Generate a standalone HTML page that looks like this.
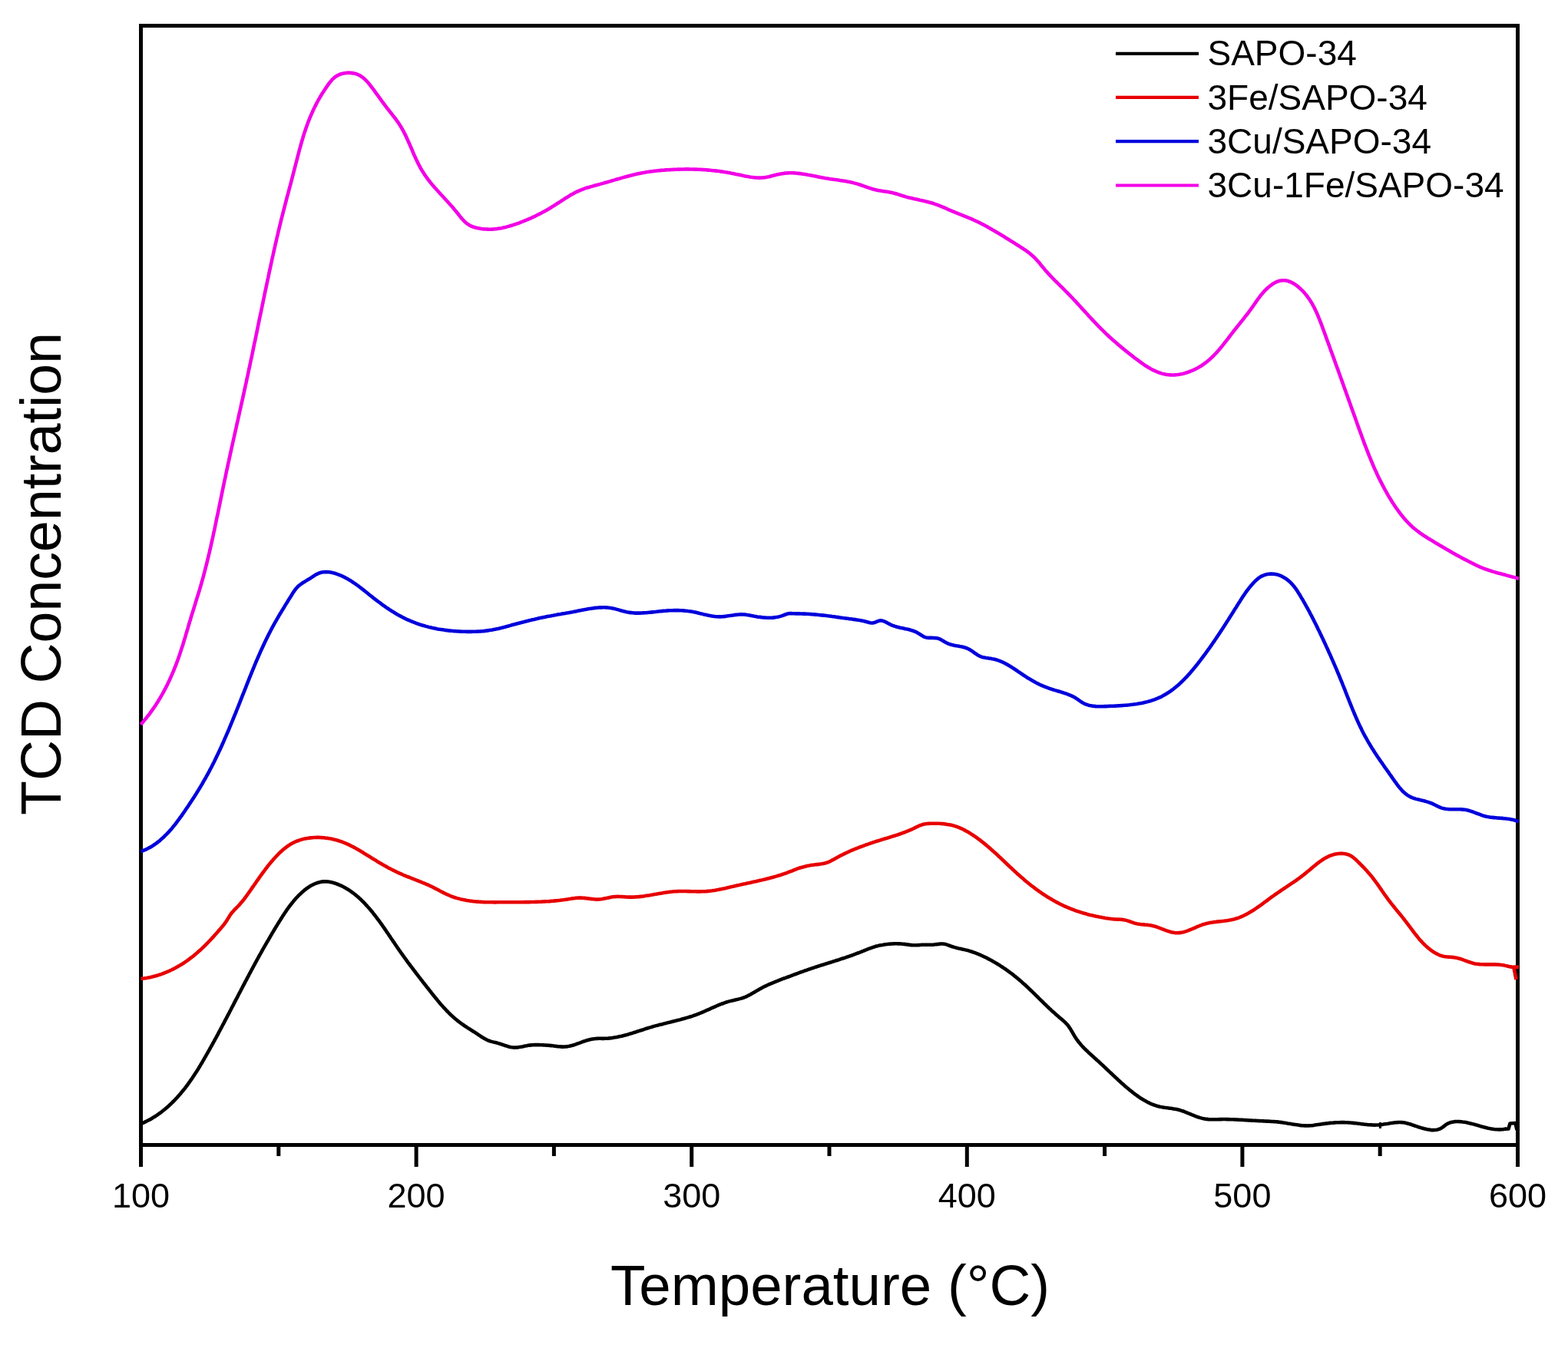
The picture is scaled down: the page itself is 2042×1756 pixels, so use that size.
<!DOCTYPE html>
<html><head><meta charset="utf-8"><title>TCD Concentration vs Temperature</title>
<style>
html,body{margin:0;padding:0;background:#fff;}
body{width:2042px;height:1756px;overflow:hidden;}
svg{display:block;}
text{font-family:"Liberation Sans",Arial,sans-serif;fill:#000;}
</style></head>
<body>
<svg width="2042" height="1756" viewBox="0 0 2042 1756">
<rect width="2042" height="1756" fill="#fff"/>
<g stroke="#000" stroke-width="5" fill="none">
<rect x="183.5" y="33.5" width="1793.0" height="1458.0"/>
<line x1="183.5" y1="1491.5" x2="183.5" y2="1520"/>
<line x1="542.1" y1="1491.5" x2="542.1" y2="1520"/>
<line x1="900.7" y1="1491.5" x2="900.7" y2="1520"/>
<line x1="1259.3" y1="1491.5" x2="1259.3" y2="1520"/>
<line x1="1617.9" y1="1491.5" x2="1617.9" y2="1520"/>
<line x1="1976.5" y1="1491.5" x2="1976.5" y2="1520"/>
<line x1="362.8" y1="1491.5" x2="362.8" y2="1506"/>
<line x1="721.4" y1="1491.5" x2="721.4" y2="1506"/>
<line x1="1080.0" y1="1491.5" x2="1080.0" y2="1506"/>
<line x1="1438.6" y1="1491.5" x2="1438.6" y2="1506"/>
<line x1="1797.2" y1="1491.5" x2="1797.2" y2="1506"/>
</g>
<g fill="none" stroke-width="4.6" stroke-linejoin="round" stroke-linecap="butt">
<path d="M183.5,1464.2 L186.0,1463.0 L187.8,1462.1 L189.7,1461.2 L191.5,1460.3 L193.4,1459.3 L195.2,1458.4 L196.9,1457.4 L198.7,1456.3 L200.4,1455.3 L202.1,1454.2 L203.8,1453.1 L205.4,1452.0 L207.0,1450.8 L208.7,1449.7 L210.3,1448.5 L211.8,1447.3 L213.4,1446.0 L214.9,1444.8 L216.4,1443.5 L217.9,1442.2 L219.4,1440.9 L220.9,1439.6 L222.3,1438.2 L223.7,1436.9 L225.1,1435.5 L226.5,1434.1 L227.9,1432.7 L229.2,1431.2 L230.6,1429.8 L231.9,1428.3 L233.2,1426.8 L234.5,1425.4 L235.8,1423.8 L237.0,1422.3 L238.3,1420.8 L239.5,1419.2 L240.8,1417.7 L242.0,1416.1 L243.2,1414.5 L244.4,1412.9 L245.5,1411.3 L246.7,1409.7 L247.8,1408.0 L249.0,1406.4 L250.1,1404.7 L251.2,1403.1 L252.3,1401.4 L253.4,1399.7 L254.5,1398.1 L255.6,1396.4 L256.7,1394.7 L257.8,1393.0 L258.8,1391.3 L259.9,1389.5 L260.9,1387.8 L261.9,1386.1 L263.0,1384.4 L264.0,1382.6 L265.0,1380.9 L266.0,1379.1 L267.0,1377.4 L268.0,1375.7 L269.0,1373.9 L270.0,1372.2 L271.0,1370.4 L272.0,1368.7 L273.0,1366.9 L273.9,1365.1 L274.9,1363.4 L275.9,1361.6 L276.9,1359.9 L277.8,1358.1 L278.8,1356.4 L279.7,1354.6 L280.7,1352.8 L281.7,1351.1 L282.6,1349.3 L283.6,1347.6 L284.5,1345.8 L285.4,1344.0 L286.4,1342.3 L287.3,1340.5 L288.3,1338.7 L289.2,1337.0 L290.1,1335.2 L291.1,1333.5 L292.0,1331.7 L292.9,1329.9 L293.8,1328.2 L294.8,1326.4 L295.7,1324.6 L296.6,1322.8 L297.5,1321.1 L298.5,1319.3 L299.4,1317.5 L300.3,1315.8 L301.2,1314.0 L302.1,1312.2 L303.1,1310.5 L304.0,1308.7 L304.9,1306.9 L305.8,1305.2 L306.7,1303.4 L307.6,1301.6 L308.6,1299.8 L309.5,1298.1 L310.4,1296.3 L311.3,1294.5 L312.2,1292.8 L313.2,1291.0 L314.1,1289.2 L315.0,1287.5 L315.9,1285.7 L316.9,1283.9 L317.8,1282.2 L318.7,1280.4 L319.6,1278.6 L320.6,1276.9 L321.5,1275.1 L322.4,1273.3 L323.4,1271.6 L324.3,1269.8 L325.2,1268.0 L326.2,1266.3 L327.1,1264.5 L328.1,1262.7 L329.0,1261.0 L330.0,1259.2 L330.9,1257.5 L331.9,1255.7 L332.8,1253.9 L333.8,1252.2 L334.7,1250.4 L335.7,1248.7 L336.7,1246.9 L337.6,1245.2 L338.6,1243.4 L339.6,1241.7 L340.6,1239.9 L341.5,1238.2 L342.5,1236.4 L343.5,1234.7 L344.5,1232.9 L345.5,1231.2 L346.5,1229.5 L347.5,1227.7 L348.5,1226.0 L349.5,1224.3 L350.5,1222.5 L351.5,1220.8 L352.5,1219.1 L353.5,1217.4 L354.5,1215.6 L355.6,1213.9 L356.6,1212.2 L357.6,1210.5 L358.6,1208.8 L359.7,1207.1 L360.7,1205.4 L361.7,1203.7 L362.8,1202.0 L363.8,1200.3 L364.9,1198.7 L365.9,1197.0 L367.0,1195.3 L368.0,1193.6 L369.1,1192.0 L370.2,1190.3 L371.3,1188.7 L372.4,1187.1 L373.5,1185.4 L374.6,1183.8 L375.8,1182.2 L377.0,1180.6 L378.2,1179.0 L379.4,1177.5 L380.6,1175.9 L381.9,1174.4 L383.2,1172.8 L384.5,1171.3 L385.8,1169.8 L387.2,1168.3 L388.6,1166.9 L390.1,1165.4 L391.6,1164.0 L393.1,1162.6 L394.6,1161.3 L396.2,1159.9 L397.8,1158.6 L399.4,1157.4 L401.1,1156.2 L402.8,1155.1 L404.5,1154.1 L406.3,1153.1 L408.0,1152.2 L409.8,1151.3 L411.7,1150.6 L413.5,1150.0 L415.4,1149.4 L417.3,1149.0 L419.2,1148.6 L421.1,1148.4 L423.0,1148.3 L425.0,1148.4 L427.0,1148.5 L429.0,1148.8 L431.0,1149.2 L433.0,1149.6 L434.9,1150.2 L436.9,1150.8 L438.8,1151.5 L440.8,1152.3 L442.6,1153.1 L444.5,1153.9 L446.3,1154.8 L448.1,1155.7 L449.9,1156.7 L451.6,1157.7 L453.3,1158.8 L455.0,1159.8 L456.6,1161.0 L458.3,1162.1 L459.9,1163.3 L461.4,1164.5 L463.0,1165.7 L464.5,1167.0 L466.0,1168.3 L467.5,1169.6 L469.0,1171.0 L470.5,1172.4 L471.9,1173.8 L473.3,1175.2 L474.7,1176.6 L476.0,1178.1 L477.4,1179.5 L478.7,1181.0 L480.1,1182.5 L481.4,1184.0 L482.7,1185.5 L483.9,1187.1 L485.2,1188.6 L486.4,1190.2 L487.7,1191.7 L488.9,1193.3 L490.1,1194.9 L491.3,1196.5 L492.5,1198.1 L493.7,1199.7 L494.9,1201.3 L496.0,1202.9 L497.2,1204.5 L498.3,1206.2 L499.5,1207.8 L500.6,1209.4 L501.8,1211.1 L502.9,1212.7 L504.0,1214.4 L505.1,1216.0 L506.3,1217.7 L507.4,1219.4 L508.5,1221.0 L509.6,1222.7 L510.7,1224.3 L511.8,1226.0 L513.0,1227.6 L514.1,1229.3 L515.2,1230.9 L516.3,1232.6 L517.5,1234.2 L518.6,1235.9 L519.7,1237.5 L520.9,1239.2 L522.0,1240.8 L523.2,1242.4 L524.4,1244.1 L525.5,1245.7 L526.7,1247.3 L527.9,1248.9 L529.0,1250.5 L530.2,1252.1 L531.4,1253.8 L532.6,1255.4 L533.8,1257.0 L535.0,1258.6 L536.2,1260.2 L537.4,1261.8 L538.6,1263.3 L539.8,1264.9 L541.0,1266.5 L542.2,1268.1 L543.5,1269.7 L544.7,1271.3 L545.9,1272.9 L547.1,1274.4 L548.3,1276.0 L549.6,1277.6 L550.8,1279.2 L552.0,1280.7 L553.3,1282.3 L554.5,1283.9 L555.7,1285.5 L557.0,1287.0 L558.2,1288.6 L559.4,1290.2 L560.7,1291.7 L561.9,1293.3 L563.1,1294.9 L564.4,1296.4 L565.6,1298.0 L566.9,1299.5 L568.1,1301.1 L569.4,1302.6 L570.7,1304.2 L572.0,1305.7 L573.2,1307.2 L574.5,1308.7 L575.9,1310.2 L577.2,1311.7 L578.5,1313.2 L579.9,1314.6 L581.2,1316.1 L582.6,1317.5 L584.0,1318.9 L585.4,1320.3 L586.8,1321.7 L588.3,1323.1 L589.8,1324.4 L591.2,1325.7 L592.7,1327.0 L594.3,1328.3 L595.8,1329.6 L597.4,1330.8 L599.0,1332.0 L600.6,1333.2 L602.3,1334.4 L603.9,1335.5 L605.6,1336.7 L607.3,1337.8 L609.0,1338.9 L610.7,1339.9 L612.4,1341.0 L614.1,1342.1 L615.8,1343.2 L617.5,1344.3 L619.2,1345.3 L620.8,1346.4 L622.4,1347.5 L624.1,1348.6 L625.7,1349.7 L627.3,1350.7 L628.9,1351.7 L630.6,1352.7 L632.2,1353.6 L633.9,1354.5 L635.7,1355.3 L637.5,1356.0 L639.3,1356.6 L641.2,1357.1 L643.1,1357.6 L645.1,1358.1 L647.1,1358.6 L649.0,1359.1 L651.0,1359.7 L653.0,1360.3 L654.9,1361.0 L656.9,1361.7 L658.8,1362.3 L660.7,1362.9 L662.6,1363.5 L664.6,1364.0 L666.5,1364.3 L668.4,1364.5 L670.4,1364.6 L672.3,1364.5 L674.3,1364.4 L676.2,1364.1 L678.2,1363.7 L680.1,1363.4 L682.1,1362.9 L684.0,1362.5 L686.0,1362.2 L688.0,1361.8 L689.9,1361.6 L691.9,1361.4 L693.9,1361.2 L695.8,1361.1 L697.8,1361.1 L699.8,1361.1 L701.8,1361.1 L703.8,1361.2 L705.7,1361.3 L707.7,1361.4 L709.7,1361.5 L711.7,1361.6 L713.7,1361.8 L715.7,1361.9 L717.7,1362.1 L719.7,1362.3 L721.7,1362.6 L723.7,1362.8 L725.8,1363.1 L727.8,1363.3 L729.8,1363.4 L731.8,1363.6 L733.8,1363.6 L735.8,1363.5 L737.8,1363.4 L739.7,1363.1 L741.6,1362.8 L743.6,1362.3 L745.5,1361.8 L747.4,1361.2 L749.3,1360.6 L751.1,1359.9 L753.0,1359.2 L754.9,1358.6 L756.8,1357.9 L758.6,1357.2 L760.5,1356.5 L762.4,1355.9 L764.3,1355.3 L766.2,1354.8 L768.1,1354.3 L770.0,1353.8 L772.0,1353.5 L773.9,1353.2 L775.9,1353.0 L777.9,1352.9 L779.9,1352.8 L781.9,1352.8 L783.9,1352.9 L785.9,1352.9 L787.9,1352.8 L789.9,1352.7 L791.9,1352.6 L793.9,1352.4 L795.9,1352.2 L797.8,1351.9 L799.8,1351.6 L801.7,1351.3 L803.7,1350.9 L805.6,1350.5 L807.6,1350.1 L809.5,1349.7 L811.4,1349.2 L813.3,1348.7 L815.3,1348.2 L817.2,1347.7 L819.1,1347.1 L821.0,1346.5 L822.9,1346.0 L824.8,1345.4 L826.7,1344.8 L828.6,1344.2 L830.5,1343.5 L832.5,1342.9 L834.4,1342.3 L836.3,1341.7 L838.2,1341.1 L840.1,1340.4 L842.0,1339.8 L843.9,1339.2 L845.8,1338.6 L847.7,1338.1 L849.7,1337.5 L851.6,1336.9 L853.5,1336.4 L855.4,1335.9 L857.4,1335.4 L859.3,1334.8 L861.2,1334.4 L863.2,1333.9 L865.1,1333.4 L867.1,1332.9 L869.0,1332.4 L870.9,1331.9 L872.9,1331.5 L874.8,1331.0 L876.8,1330.5 L878.7,1330.0 L880.6,1329.6 L882.6,1329.1 L884.5,1328.6 L886.4,1328.1 L888.3,1327.5 L890.3,1327.0 L892.2,1326.5 L894.1,1325.9 L896.0,1325.4 L897.9,1324.8 L899.8,1324.2 L901.7,1323.6 L903.6,1322.9 L905.4,1322.3 L907.3,1321.6 L909.2,1320.9 L911.0,1320.1 L912.9,1319.4 L914.7,1318.6 L916.6,1317.8 L918.4,1317.0 L920.2,1316.2 L922.1,1315.4 L923.9,1314.6 L925.7,1313.7 L927.5,1312.9 L929.4,1312.1 L931.2,1311.3 L933.0,1310.5 L934.9,1309.7 L936.7,1308.9 L938.6,1308.2 L940.5,1307.5 L942.3,1306.8 L944.2,1306.1 L946.1,1305.5 L948.0,1304.9 L949.9,1304.4 L951.8,1303.9 L953.8,1303.4 L955.7,1303.0 L957.6,1302.5 L959.6,1302.1 L961.5,1301.6 L963.4,1301.1 L965.3,1300.6 L967.2,1300.0 L969.1,1299.3 L970.9,1298.6 L972.7,1297.8 L974.5,1296.9 L976.2,1296.0 L978.0,1295.1 L979.7,1294.1 L981.5,1293.1 L983.2,1292.0 L984.9,1291.0 L986.7,1290.0 L988.4,1289.0 L990.1,1288.0 L991.9,1287.1 L993.7,1286.1 L995.4,1285.2 L997.2,1284.4 L999.0,1283.5 L1000.8,1282.7 L1002.6,1281.9 L1004.5,1281.1 L1006.3,1280.3 L1008.1,1279.6 L1009.9,1278.8 L1011.8,1278.1 L1013.6,1277.4 L1015.5,1276.6 L1017.3,1275.9 L1019.2,1275.2 L1021.0,1274.5 L1022.9,1273.9 L1024.8,1273.2 L1026.6,1272.5 L1028.5,1271.8 L1030.4,1271.1 L1032.2,1270.4 L1034.1,1269.7 L1035.9,1269.0 L1037.8,1268.3 L1039.7,1267.6 L1041.5,1266.9 L1043.4,1266.2 L1045.3,1265.6 L1047.2,1264.9 L1049.0,1264.2 L1050.9,1263.6 L1052.8,1262.9 L1054.7,1262.3 L1056.6,1261.6 L1058.5,1261.0 L1060.4,1260.4 L1062.3,1259.7 L1064.2,1259.1 L1066.1,1258.5 L1068.0,1257.9 L1069.9,1257.3 L1071.8,1256.7 L1073.7,1256.1 L1075.7,1255.5 L1077.6,1254.9 L1079.5,1254.3 L1081.4,1253.7 L1083.3,1253.1 L1085.2,1252.5 L1087.1,1251.9 L1089.0,1251.3 L1090.9,1250.7 L1092.8,1250.1 L1094.7,1249.4 L1096.6,1248.8 L1098.5,1248.2 L1100.4,1247.6 L1102.3,1246.9 L1104.2,1246.3 L1106.1,1245.6 L1108.0,1245.0 L1109.9,1244.3 L1111.7,1243.6 L1113.6,1242.9 L1115.5,1242.2 L1117.3,1241.5 L1119.2,1240.8 L1121.0,1240.1 L1122.9,1239.3 L1124.7,1238.6 L1126.5,1237.8 L1128.4,1237.1 L1130.2,1236.4 L1132.1,1235.7 L1134.0,1235.0 L1135.8,1234.4 L1137.7,1233.7 L1139.6,1233.1 L1141.6,1232.6 L1143.5,1232.1 L1145.5,1231.6 L1147.5,1231.2 L1149.5,1230.9 L1151.4,1230.5 L1153.5,1230.2 L1155.5,1230.0 L1157.5,1229.8 L1159.5,1229.6 L1161.5,1229.5 L1163.5,1229.4 L1165.5,1229.3 L1167.5,1229.3 L1169.5,1229.4 L1171.5,1229.4 L1173.5,1229.5 L1175.5,1229.7 L1177.4,1229.9 L1179.3,1230.1 L1181.2,1230.4 L1183.1,1230.6 L1185.0,1230.9 L1186.8,1231.1 L1188.7,1231.3 L1190.6,1231.3 L1192.5,1231.3 L1194.4,1231.2 L1196.4,1231.1 L1198.3,1231.0 L1200.3,1230.8 L1202.2,1230.7 L1204.2,1230.7 L1206.2,1230.7 L1208.2,1230.7 L1210.2,1230.7 L1212.2,1230.7 L1214.2,1230.7 L1216.2,1230.6 L1218.1,1230.3 L1220.1,1230.1 L1222.0,1229.9 L1224.0,1229.6 L1225.9,1229.5 L1227.8,1229.5 L1229.6,1229.7 L1231.4,1230.1 L1233.3,1230.6 L1235.1,1231.3 L1236.9,1232.0 L1238.7,1232.7 L1240.6,1233.3 L1242.5,1233.9 L1244.4,1234.4 L1246.4,1234.9 L1248.3,1235.4 L1250.3,1235.8 L1252.2,1236.2 L1254.2,1236.7 L1256.2,1237.1 L1258.1,1237.6 L1260.1,1238.1 L1262.0,1238.6 L1263.9,1239.2 L1265.8,1239.8 L1267.7,1240.5 L1269.6,1241.1 L1271.5,1241.9 L1273.3,1242.6 L1275.2,1243.4 L1277.0,1244.2 L1278.8,1245.0 L1280.6,1245.8 L1282.4,1246.7 L1284.2,1247.5 L1286.0,1248.4 L1287.7,1249.4 L1289.5,1250.3 L1291.3,1251.2 L1293.0,1252.2 L1294.7,1253.2 L1296.5,1254.2 L1298.2,1255.2 L1299.9,1256.3 L1301.6,1257.3 L1303.2,1258.4 L1304.9,1259.5 L1306.6,1260.6 L1308.2,1261.7 L1309.9,1262.8 L1311.5,1264.0 L1313.1,1265.1 L1314.7,1266.3 L1316.3,1267.5 L1317.9,1268.7 L1319.5,1269.9 L1321.1,1271.2 L1322.6,1272.4 L1324.2,1273.7 L1325.7,1274.9 L1327.2,1276.2 L1328.7,1277.5 L1330.3,1278.8 L1331.7,1280.2 L1333.2,1281.5 L1334.7,1282.8 L1336.2,1284.2 L1337.6,1285.5 L1339.1,1286.9 L1340.5,1288.3 L1342.0,1289.7 L1343.4,1291.0 L1344.9,1292.4 L1346.3,1293.8 L1347.7,1295.2 L1349.1,1296.6 L1350.6,1298.0 L1352.0,1299.4 L1353.4,1300.8 L1354.8,1302.2 L1356.3,1303.6 L1357.7,1305.0 L1359.1,1306.4 L1360.5,1307.8 L1362.0,1309.2 L1363.4,1310.6 L1364.9,1312.0 L1366.3,1313.4 L1367.8,1314.7 L1369.2,1316.1 L1370.7,1317.5 L1372.2,1318.8 L1373.7,1320.1 L1375.2,1321.5 L1376.7,1322.8 L1378.2,1324.1 L1379.7,1325.4 L1381.2,1326.7 L1382.8,1327.9 L1384.3,1329.2 L1385.8,1330.6 L1387.2,1331.9 L1388.6,1333.3 L1389.9,1334.8 L1391.2,1336.3 L1392.3,1337.9 L1393.4,1339.6 L1394.5,1341.3 L1395.5,1343.0 L1396.5,1344.7 L1397.5,1346.5 L1398.5,1348.2 L1399.5,1349.9 L1400.6,1351.6 L1401.7,1353.3 L1402.9,1354.9 L1404.1,1356.5 L1405.3,1358.1 L1406.6,1359.6 L1407.9,1361.2 L1409.3,1362.7 L1410.6,1364.1 L1412.0,1365.6 L1413.5,1367.0 L1414.9,1368.4 L1416.4,1369.8 L1417.8,1371.2 L1419.3,1372.6 L1420.8,1373.9 L1422.3,1375.3 L1423.8,1376.6 L1425.3,1378.0 L1426.8,1379.3 L1428.3,1380.7 L1429.8,1382.0 L1431.3,1383.4 L1432.7,1384.7 L1434.2,1386.1 L1435.6,1387.4 L1437.1,1388.8 L1438.5,1390.1 L1440.0,1391.5 L1441.4,1392.9 L1442.9,1394.2 L1444.3,1395.6 L1445.7,1396.9 L1447.2,1398.3 L1448.6,1399.6 L1450.0,1401.0 L1451.5,1402.3 L1452.9,1403.7 L1454.4,1405.0 L1455.8,1406.4 L1457.3,1407.7 L1458.7,1409.1 L1460.2,1410.4 L1461.7,1411.7 L1463.2,1413.0 L1464.7,1414.4 L1466.2,1415.7 L1467.7,1417.0 L1469.3,1418.3 L1470.8,1419.6 L1472.4,1420.8 L1474.0,1422.1 L1475.5,1423.4 L1477.2,1424.6 L1478.8,1425.8 L1480.4,1427.0 L1482.1,1428.2 L1483.7,1429.3 L1485.4,1430.5 L1487.1,1431.5 L1488.8,1432.6 L1490.5,1433.6 L1492.3,1434.6 L1494.0,1435.5 L1495.8,1436.4 L1497.6,1437.3 L1499.4,1438.1 L1501.3,1438.8 L1503.1,1439.5 L1505.0,1440.1 L1506.8,1440.7 L1508.7,1441.2 L1510.6,1441.7 L1512.6,1442.1 L1514.5,1442.4 L1516.5,1442.8 L1518.4,1443.0 L1520.4,1443.3 L1522.4,1443.6 L1524.4,1443.8 L1526.3,1444.1 L1528.3,1444.4 L1530.3,1444.7 L1532.2,1445.1 L1534.1,1445.5 L1536.1,1446.0 L1538.0,1446.6 L1539.8,1447.2 L1541.7,1447.8 L1543.6,1448.6 L1545.4,1449.3 L1547.3,1450.1 L1549.1,1450.8 L1551.0,1451.6 L1552.8,1452.4 L1554.7,1453.1 L1556.5,1453.9 L1558.4,1454.6 L1560.3,1455.3 L1562.1,1455.9 L1564.0,1456.4 L1565.9,1456.9 L1567.9,1457.3 L1569.8,1457.7 L1571.8,1457.9 L1573.8,1458.1 L1575.8,1458.2 L1577.8,1458.3 L1579.9,1458.3 L1581.9,1458.3 L1583.9,1458.2 L1586.0,1458.2 L1588.0,1458.1 L1590.0,1458.1 L1592.1,1458.0 L1594.1,1458.0 L1596.1,1458.0 L1598.1,1458.1 L1600.1,1458.1 L1602.1,1458.2 L1604.1,1458.2 L1606.1,1458.3 L1608.1,1458.4 L1610.0,1458.5 L1612.0,1458.6 L1614.0,1458.7 L1616.0,1458.8 L1617.9,1458.9 L1619.9,1459.0 L1621.8,1459.1 L1623.8,1459.3 L1625.8,1459.4 L1627.7,1459.5 L1629.7,1459.6 L1631.6,1459.7 L1633.6,1459.8 L1635.6,1459.9 L1637.5,1460.0 L1639.5,1460.1 L1641.5,1460.2 L1643.4,1460.3 L1645.4,1460.4 L1647.4,1460.5 L1649.3,1460.6 L1651.3,1460.6 L1653.3,1460.7 L1655.2,1460.9 L1657.2,1461.0 L1659.2,1461.1 L1661.2,1461.3 L1663.1,1461.4 L1665.1,1461.6 L1667.1,1461.9 L1669.1,1462.1 L1671.1,1462.4 L1673.1,1462.7 L1675.0,1463.0 L1677.0,1463.4 L1679.0,1463.7 L1681.0,1464.1 L1683.0,1464.4 L1684.9,1464.7 L1686.9,1465.0 L1688.9,1465.3 L1690.9,1465.6 L1692.9,1465.9 L1694.8,1466.1 L1696.8,1466.2 L1698.8,1466.4 L1700.7,1466.4 L1702.7,1466.5 L1704.7,1466.4 L1706.6,1466.3 L1708.6,1466.2 L1710.5,1465.9 L1712.5,1465.6 L1714.4,1465.3 L1716.4,1465.0 L1718.4,1464.7 L1720.3,1464.4 L1722.3,1464.1 L1724.3,1463.9 L1726.3,1463.6 L1728.3,1463.4 L1730.3,1463.1 L1732.3,1462.9 L1734.3,1462.7 L1736.3,1462.6 L1738.3,1462.4 L1740.3,1462.3 L1742.3,1462.2 L1744.3,1462.2 L1746.3,1462.1 L1748.3,1462.1 L1750.3,1462.1 L1752.3,1462.2 L1754.3,1462.2 L1756.3,1462.4 L1758.3,1462.5 L1760.3,1462.7 L1762.2,1462.9 L1764.2,1463.1 L1766.2,1463.3 L1768.2,1463.6 L1770.2,1463.8 L1772.1,1464.1 L1774.1,1464.3 L1776.1,1464.6 L1778.1,1464.8 L1780.0,1465.0 L1782.0,1465.2 L1784.0,1465.3 L1786.0,1465.4 L1787.9,1465.5 L1789.9,1465.6 L1791.9,1465.5 L1793.9,1465.5 L1795.9,1465.4 L1797.9,1465.2 L1799.9,1464.9 L1801.9,1464.6 L1803.9,1464.3 L1805.9,1464.0 L1807.9,1463.7 L1809.9,1463.3 L1811.9,1463.0 L1813.9,1462.7 L1815.9,1462.4 L1817.8,1462.2 L1819.8,1462.1 L1821.7,1462.0 L1823.6,1462.0 L1825.5,1462.1 L1827.4,1462.3 L1829.3,1462.6 L1831.1,1463.0 L1833.0,1463.5 L1834.9,1464.0 L1836.8,1464.5 L1838.6,1465.2 L1840.6,1465.8 L1842.5,1466.5 L1844.5,1467.1 L1846.5,1467.8 L1848.5,1468.5 L1850.5,1469.1 L1852.6,1469.7 L1854.7,1470.3 L1856.7,1470.8 L1858.8,1471.3 L1860.8,1471.6 L1862.9,1471.9 L1864.9,1472.1 L1866.8,1472.1 L1868.8,1472.0 L1870.7,1471.8 L1872.5,1471.4 L1874.3,1470.8 L1876.0,1470.1 L1877.6,1469.2 L1879.2,1468.1 L1880.7,1466.9 L1882.2,1465.7 L1883.8,1464.6 L1885.4,1463.7 L1887.2,1462.9 L1889.0,1462.2 L1890.8,1461.7 L1892.8,1461.4 L1894.7,1461.1 L1896.7,1461.0 L1898.7,1461.0 L1900.8,1461.1 L1902.8,1461.2 L1904.9,1461.5 L1906.9,1461.7 L1908.9,1462.1 L1910.9,1462.5 L1912.9,1462.9 L1914.9,1463.4 L1916.9,1463.9 L1918.8,1464.4 L1920.8,1464.9 L1922.7,1465.5 L1924.6,1466.0 L1926.5,1466.6 L1928.5,1467.2 L1930.4,1467.7 L1932.3,1468.2 L1934.2,1468.7 L1936.2,1469.2 L1938.1,1469.7 L1940.0,1470.1 L1941.9,1470.4 L1943.9,1470.7 L1945.8,1471.0 L1947.8,1471.2 L1949.8,1471.3 L1951.8,1471.4 L1953.8,1471.4 L1955.8,1471.3 L1957.9,1471.1 L1959.9,1470.8 L1962.0,1470.5" stroke="#000000"/>
<path d="M183.5,1274.9 L185.3,1274.7 L187.3,1274.5 L189.3,1274.2 L191.2,1273.9 L193.2,1273.5 L195.1,1273.2 L197.1,1272.7 L199.0,1272.3 L201.0,1271.8 L202.9,1271.3 L204.8,1270.7 L206.7,1270.1 L208.6,1269.5 L210.5,1268.9 L212.3,1268.2 L214.2,1267.5 L216.0,1266.7 L217.9,1266.0 L219.7,1265.2 L221.5,1264.3 L223.3,1263.5 L225.1,1262.6 L226.9,1261.7 L228.6,1260.8 L230.4,1259.8 L232.1,1258.8 L233.9,1257.8 L235.6,1256.8 L237.3,1255.7 L238.9,1254.7 L240.6,1253.6 L242.3,1252.4 L243.9,1251.3 L245.5,1250.1 L247.1,1248.9 L248.7,1247.7 L250.3,1246.5 L251.9,1245.3 L253.4,1244.0 L254.9,1242.7 L256.4,1241.5 L257.9,1240.1 L259.4,1238.8 L260.9,1237.5 L262.4,1236.1 L263.8,1234.8 L265.2,1233.4 L266.7,1232.0 L268.1,1230.6 L269.5,1229.2 L270.9,1227.7 L272.2,1226.3 L273.6,1224.9 L275.0,1223.4 L276.3,1221.9 L277.7,1220.5 L279.0,1219.0 L280.3,1217.5 L281.7,1216.0 L283.0,1214.5 L284.3,1213.0 L285.6,1211.5 L286.9,1210.0 L288.2,1208.5 L289.5,1206.9 L290.8,1205.4 L292.0,1203.8 L293.2,1202.2 L294.4,1200.6 L295.5,1198.9 L296.5,1197.2 L297.6,1195.5 L298.6,1193.8 L299.7,1192.1 L300.8,1190.5 L302.0,1188.9 L303.3,1187.4 L304.6,1185.9 L306.0,1184.5 L307.4,1183.1 L308.8,1181.7 L310.2,1180.2 L311.6,1178.8 L312.9,1177.3 L314.2,1175.8 L315.5,1174.3 L316.8,1172.7 L318.0,1171.1 L319.2,1169.5 L320.4,1167.9 L321.5,1166.3 L322.7,1164.7 L323.9,1163.0 L325.0,1161.4 L326.2,1159.8 L327.3,1158.1 L328.4,1156.5 L329.6,1154.9 L330.7,1153.2 L331.9,1151.6 L333.0,1150.0 L334.1,1148.3 L335.3,1146.7 L336.4,1145.1 L337.6,1143.4 L338.7,1141.8 L339.9,1140.2 L341.0,1138.6 L342.2,1137.0 L343.4,1135.4 L344.6,1133.8 L345.8,1132.2 L347.0,1130.6 L348.2,1129.0 L349.5,1127.4 L350.7,1125.9 L352.0,1124.3 L353.3,1122.8 L354.6,1121.2 L355.9,1119.7 L357.2,1118.2 L358.6,1116.7 L360.0,1115.2 L361.4,1113.8 L362.8,1112.3 L364.2,1110.9 L365.7,1109.5 L367.2,1108.2 L368.7,1106.8 L370.2,1105.6 L371.8,1104.3 L373.4,1103.1 L375.0,1102.0 L376.7,1100.9 L378.4,1099.8 L380.1,1098.8 L381.8,1097.9 L383.6,1097.0 L385.4,1096.2 L387.3,1095.5 L389.1,1094.8 L391.0,1094.1 L392.9,1093.6 L394.9,1093.1 L396.8,1092.6 L398.8,1092.2 L400.8,1091.9 L402.8,1091.6 L404.8,1091.4 L406.8,1091.2 L408.8,1091.0 L410.9,1091.0 L412.9,1090.9 L414.9,1090.9 L416.9,1091.0 L418.9,1091.1 L420.9,1091.2 L422.9,1091.4 L424.9,1091.7 L426.9,1091.9 L428.8,1092.3 L430.8,1092.6 L432.7,1093.0 L434.6,1093.4 L436.6,1093.9 L438.5,1094.4 L440.3,1095.0 L442.2,1095.6 L444.1,1096.2 L445.9,1096.9 L447.7,1097.6 L449.6,1098.3 L451.4,1099.1 L453.1,1099.9 L454.9,1100.7 L456.7,1101.6 L458.4,1102.5 L460.2,1103.4 L461.9,1104.3 L463.6,1105.3 L465.4,1106.3 L467.1,1107.3 L468.8,1108.3 L470.5,1109.3 L472.2,1110.3 L473.9,1111.4 L475.6,1112.4 L477.3,1113.5 L479.0,1114.5 L480.7,1115.6 L482.4,1116.6 L484.1,1117.7 L485.8,1118.8 L487.5,1119.8 L489.3,1120.8 L491.0,1121.9 L492.7,1122.9 L494.4,1123.9 L496.2,1125.0 L497.9,1126.0 L499.7,1127.0 L501.4,1128.0 L503.2,1128.9 L504.9,1129.9 L506.7,1130.9 L508.4,1131.8 L510.2,1132.7 L512.0,1133.6 L513.8,1134.5 L515.6,1135.4 L517.4,1136.3 L519.2,1137.1 L521.0,1137.9 L522.8,1138.7 L524.6,1139.5 L526.4,1140.3 L528.3,1141.0 L530.1,1141.8 L531.9,1142.5 L533.8,1143.2 L535.6,1143.9 L537.5,1144.7 L539.3,1145.4 L541.1,1146.1 L543.0,1146.8 L544.8,1147.5 L546.7,1148.3 L548.6,1149.0 L550.4,1149.8 L552.2,1150.5 L554.1,1151.3 L555.9,1152.1 L557.8,1152.9 L559.6,1153.8 L561.5,1154.6 L563.3,1155.5 L565.1,1156.4 L566.9,1157.4 L568.8,1158.3 L570.6,1159.3 L572.4,1160.3 L574.2,1161.2 L576.0,1162.2 L577.9,1163.1 L579.7,1164.0 L581.5,1164.9 L583.4,1165.7 L585.2,1166.5 L587.1,1167.3 L589.0,1168.0 L590.8,1168.7 L592.7,1169.3 L594.6,1169.9 L596.5,1170.4 L598.4,1170.9 L600.3,1171.4 L602.2,1171.8 L604.2,1172.2 L606.1,1172.6 L608.0,1173.0 L610.0,1173.3 L611.9,1173.6 L613.9,1173.8 L615.8,1174.1 L617.8,1174.3 L619.8,1174.5 L621.7,1174.6 L623.7,1174.8 L625.7,1174.9 L627.7,1175.0 L629.7,1175.1 L631.7,1175.2 L633.7,1175.2 L635.6,1175.3 L637.6,1175.3 L639.6,1175.3 L641.6,1175.3 L643.6,1175.4 L645.6,1175.4 L647.7,1175.3 L649.7,1175.3 L651.7,1175.3 L653.7,1175.3 L655.7,1175.3 L657.7,1175.3 L659.7,1175.3 L661.7,1175.2 L663.7,1175.2 L665.7,1175.2 L667.7,1175.2 L669.7,1175.2 L671.7,1175.2 L673.7,1175.2 L675.7,1175.2 L677.7,1175.2 L679.7,1175.2 L681.7,1175.2 L683.7,1175.1 L685.7,1175.1 L687.7,1175.1 L689.7,1175.1 L691.7,1175.0 L693.7,1175.0 L695.7,1175.0 L697.7,1174.9 L699.7,1174.9 L701.7,1174.8 L703.6,1174.7 L705.6,1174.6 L707.6,1174.5 L709.6,1174.4 L711.6,1174.3 L713.6,1174.2 L715.6,1174.1 L717.6,1173.9 L719.5,1173.8 L721.5,1173.6 L723.5,1173.4 L725.5,1173.2 L727.5,1173.0 L729.4,1172.8 L731.4,1172.5 L733.4,1172.3 L735.4,1172.0 L737.3,1171.7 L739.3,1171.4 L741.3,1171.1 L743.3,1170.8 L745.2,1170.4 L747.2,1170.2 L749.2,1169.9 L751.1,1169.7 L753.1,1169.6 L755.1,1169.5 L757.1,1169.6 L759.1,1169.7 L761.0,1169.9 L763.0,1170.1 L765.0,1170.4 L767.0,1170.6 L769.0,1170.9 L771.0,1171.1 L772.9,1171.3 L774.9,1171.5 L776.9,1171.6 L778.9,1171.6 L780.8,1171.5 L782.8,1171.3 L784.8,1171.0 L786.7,1170.6 L788.7,1170.2 L790.6,1169.8 L792.6,1169.4 L794.5,1169.0 L796.5,1168.6 L798.5,1168.3 L800.5,1168.1 L802.4,1168.0 L804.4,1167.9 L806.4,1168.0 L808.4,1168.0 L810.4,1168.1 L812.4,1168.2 L814.4,1168.4 L816.4,1168.5 L818.4,1168.6 L820.4,1168.6 L822.4,1168.6 L824.4,1168.6 L826.4,1168.5 L828.4,1168.4 L830.4,1168.3 L832.4,1168.1 L834.3,1167.9 L836.3,1167.7 L838.3,1167.4 L840.3,1167.1 L842.3,1166.8 L844.2,1166.5 L846.2,1166.2 L848.2,1165.8 L850.2,1165.5 L852.2,1165.1 L854.1,1164.8 L856.1,1164.4 L858.1,1164.1 L860.1,1163.7 L862.0,1163.4 L864.0,1163.0 L866.0,1162.7 L868.0,1162.4 L870.0,1162.2 L871.9,1161.9 L873.9,1161.7 L875.9,1161.5 L877.9,1161.3 L879.9,1161.2 L881.9,1161.1 L883.9,1161.0 L885.9,1161.0 L887.9,1161.0 L889.9,1161.0 L891.9,1161.0 L893.9,1161.0 L895.9,1161.1 L897.9,1161.1 L899.9,1161.2 L901.9,1161.2 L903.9,1161.3 L905.9,1161.3 L907.9,1161.4 L909.9,1161.4 L911.8,1161.4 L913.8,1161.3 L915.8,1161.3 L917.8,1161.2 L919.8,1161.1 L921.7,1160.9 L923.7,1160.7 L925.7,1160.5 L927.6,1160.3 L929.6,1160.0 L931.5,1159.7 L933.5,1159.3 L935.4,1159.0 L937.4,1158.6 L939.3,1158.2 L941.3,1157.8 L943.2,1157.4 L945.1,1157.0 L947.1,1156.5 L949.0,1156.1 L951.0,1155.6 L952.9,1155.1 L954.9,1154.7 L956.8,1154.2 L958.8,1153.8 L960.7,1153.3 L962.7,1152.9 L964.6,1152.4 L966.6,1152.0 L968.6,1151.6 L970.5,1151.2 L972.5,1150.7 L974.5,1150.3 L976.4,1149.9 L978.4,1149.4 L980.4,1149.0 L982.3,1148.6 L984.3,1148.2 L986.2,1147.7 L988.2,1147.3 L990.1,1146.8 L992.1,1146.4 L994.0,1145.9 L996.0,1145.5 L997.9,1145.0 L999.9,1144.5 L1001.8,1144.0 L1003.7,1143.5 L1005.6,1143.0 L1007.6,1142.5 L1009.5,1141.9 L1011.4,1141.4 L1013.3,1140.8 L1015.1,1140.2 L1017.0,1139.7 L1018.9,1139.0 L1020.8,1138.4 L1022.6,1137.8 L1024.5,1137.1 L1026.3,1136.4 L1028.1,1135.7 L1029.9,1135.0 L1031.8,1134.3 L1033.6,1133.5 L1035.4,1132.8 L1037.2,1132.1 L1039.1,1131.4 L1040.9,1130.8 L1042.8,1130.2 L1044.7,1129.7 L1046.6,1129.2 L1048.5,1128.7 L1050.4,1128.2 L1052.4,1127.8 L1054.3,1127.5 L1056.3,1127.1 L1058.3,1126.8 L1060.3,1126.6 L1062.3,1126.3 L1064.3,1126.1 L1066.3,1125.9 L1068.3,1125.6 L1070.2,1125.3 L1072.2,1124.9 L1074.1,1124.5 L1076.0,1124.0 L1077.9,1123.3 L1079.7,1122.6 L1081.5,1121.8 L1083.3,1120.8 L1085.0,1119.9 L1086.8,1118.9 L1088.5,1117.9 L1090.3,1116.9 L1092.0,1116.0 L1093.8,1115.1 L1095.6,1114.1 L1097.4,1113.3 L1099.2,1112.4 L1101.0,1111.5 L1102.8,1110.7 L1104.6,1109.8 L1106.4,1109.0 L1108.2,1108.2 L1110.1,1107.4 L1111.9,1106.6 L1113.8,1105.9 L1115.6,1105.1 L1117.5,1104.4 L1119.3,1103.7 L1121.2,1103.0 L1123.1,1102.3 L1124.9,1101.6 L1126.8,1100.9 L1128.7,1100.2 L1130.6,1099.6 L1132.5,1098.9 L1134.4,1098.3 L1136.3,1097.6 L1138.2,1097.0 L1140.1,1096.4 L1142.0,1095.8 L1143.9,1095.2 L1145.8,1094.6 L1147.7,1094.0 L1149.6,1093.4 L1151.6,1092.8 L1153.5,1092.2 L1155.4,1091.7 L1157.3,1091.1 L1159.2,1090.5 L1161.2,1089.9 L1163.1,1089.3 L1165.0,1088.7 L1166.9,1088.1 L1168.8,1087.5 L1170.7,1086.8 L1172.6,1086.2 L1174.5,1085.5 L1176.3,1084.8 L1178.2,1084.2 L1180.1,1083.4 L1181.9,1082.7 L1183.8,1081.9 L1185.6,1081.1 L1187.4,1080.3 L1189.2,1079.5 L1191.0,1078.6 L1192.8,1077.7 L1194.6,1076.9 L1196.4,1076.0 L1198.2,1075.2 L1200.0,1074.6 L1201.8,1074.0 L1203.6,1073.6 L1205.5,1073.3 L1207.4,1073.0 L1209.3,1072.9 L1211.3,1072.8 L1213.3,1072.7 L1215.2,1072.7 L1217.3,1072.7 L1219.3,1072.7 L1221.3,1072.7 L1223.4,1072.8 L1225.4,1073.0 L1227.5,1073.1 L1229.5,1073.3 L1231.6,1073.6 L1233.6,1073.9 L1235.6,1074.2 L1237.6,1074.6 L1239.6,1075.1 L1241.6,1075.6 L1243.5,1076.1 L1245.4,1076.7 L1247.3,1077.4 L1249.1,1078.1 L1250.9,1078.9 L1252.7,1079.7 L1254.5,1080.5 L1256.2,1081.4 L1258.0,1082.4 L1259.7,1083.3 L1261.4,1084.3 L1263.1,1085.3 L1264.7,1086.4 L1266.4,1087.4 L1268.0,1088.5 L1269.6,1089.6 L1271.2,1090.7 L1272.8,1091.9 L1274.4,1093.1 L1276.0,1094.2 L1277.6,1095.4 L1279.1,1096.7 L1280.7,1097.9 L1282.2,1099.1 L1283.8,1100.4 L1285.3,1101.7 L1286.8,1103.0 L1288.3,1104.3 L1289.8,1105.6 L1291.3,1106.9 L1292.8,1108.2 L1294.3,1109.6 L1295.8,1110.9 L1297.3,1112.3 L1298.8,1113.6 L1300.2,1115.0 L1301.7,1116.4 L1303.2,1117.8 L1304.6,1119.1 L1306.1,1120.5 L1307.6,1121.9 L1309.0,1123.3 L1310.5,1124.7 L1312.0,1126.1 L1313.4,1127.5 L1314.9,1128.9 L1316.4,1130.2 L1317.8,1131.6 L1319.3,1133.0 L1320.8,1134.4 L1322.3,1135.7 L1323.8,1137.1 L1325.2,1138.5 L1326.7,1139.8 L1328.2,1141.1 L1329.7,1142.5 L1331.3,1143.8 L1332.8,1145.1 L1334.3,1146.4 L1335.8,1147.7 L1337.4,1149.0 L1338.9,1150.2 L1340.5,1151.5 L1342.0,1152.7 L1343.6,1154.0 L1345.2,1155.2 L1346.8,1156.4 L1348.4,1157.6 L1350.0,1158.8 L1351.6,1159.9 L1353.2,1161.1 L1354.8,1162.2 L1356.4,1163.3 L1358.1,1164.5 L1359.7,1165.5 L1361.4,1166.6 L1363.0,1167.7 L1364.7,1168.7 L1366.4,1169.8 L1368.1,1170.8 L1369.8,1171.8 L1371.5,1172.8 L1373.3,1173.8 L1375.0,1174.7 L1376.7,1175.6 L1378.5,1176.6 L1380.3,1177.5 L1382.0,1178.3 L1383.8,1179.2 L1385.6,1180.1 L1387.4,1180.9 L1389.2,1181.7 L1391.1,1182.5 L1392.9,1183.2 L1394.8,1184.0 L1396.6,1184.7 L1398.5,1185.4 L1400.4,1186.1 L1402.3,1186.8 L1404.2,1187.4 L1406.1,1188.0 L1408.1,1188.6 L1410.0,1189.2 L1411.9,1189.8 L1413.9,1190.3 L1415.8,1190.9 L1417.8,1191.4 L1419.8,1191.9 L1421.7,1192.3 L1423.7,1192.8 L1425.7,1193.2 L1427.7,1193.7 L1429.6,1194.1 L1431.6,1194.5 L1433.6,1194.8 L1435.6,1195.2 L1437.5,1195.5 L1439.5,1195.9 L1441.4,1196.2 L1443.4,1196.5 L1445.3,1196.7 L1447.3,1197.0 L1449.2,1197.2 L1451.1,1197.4 L1453.1,1197.5 L1455.0,1197.6 L1456.9,1197.6 L1458.9,1197.7 L1460.8,1197.9 L1462.7,1198.1 L1464.6,1198.4 L1466.5,1198.9 L1468.3,1199.4 L1470.2,1200.0 L1472.1,1200.7 L1473.9,1201.4 L1475.8,1202.0 L1477.7,1202.6 L1479.5,1203.1 L1481.4,1203.5 L1483.3,1203.8 L1485.3,1204.1 L1487.2,1204.3 L1489.1,1204.4 L1491.1,1204.6 L1493.1,1204.7 L1495.0,1204.9 L1497.0,1205.2 L1498.9,1205.5 L1500.9,1205.9 L1502.9,1206.4 L1504.9,1207.0 L1506.8,1207.7 L1508.8,1208.4 L1510.7,1209.1 L1512.7,1209.9 L1514.7,1210.6 L1516.6,1211.4 L1518.6,1212.1 L1520.5,1212.8 L1522.4,1213.4 L1524.4,1214.0 L1526.3,1214.4 L1528.2,1214.8 L1530.1,1215.1 L1532.0,1215.2 L1533.9,1215.3 L1535.7,1215.1 L1537.6,1214.9 L1539.5,1214.6 L1541.3,1214.2 L1543.2,1213.6 L1545.0,1213.1 L1546.9,1212.4 L1548.7,1211.7 L1550.6,1210.9 L1552.5,1210.2 L1554.3,1209.4 L1556.2,1208.6 L1558.1,1207.7 L1559.9,1206.9 L1561.8,1206.2 L1563.8,1205.4 L1565.7,1204.7 L1567.6,1204.0 L1569.6,1203.5 L1571.5,1202.9 L1573.5,1202.5 L1575.5,1202.1 L1577.5,1201.7 L1579.5,1201.4 L1581.5,1201.1 L1583.5,1200.9 L1585.6,1200.6 L1587.6,1200.4 L1589.6,1200.2 L1591.6,1200.0 L1593.6,1199.8 L1595.6,1199.5 L1597.6,1199.3 L1599.6,1199.0 L1601.6,1198.6 L1603.5,1198.3 L1605.4,1197.8 L1607.3,1197.4 L1609.2,1196.8 L1611.1,1196.2 L1612.9,1195.6 L1614.8,1194.9 L1616.6,1194.1 L1618.4,1193.3 L1620.1,1192.5 L1621.9,1191.6 L1623.6,1190.7 L1625.4,1189.8 L1627.1,1188.8 L1628.8,1187.8 L1630.5,1186.7 L1632.2,1185.7 L1633.9,1184.6 L1635.6,1183.4 L1637.2,1182.3 L1638.9,1181.2 L1640.5,1180.0 L1642.2,1178.8 L1643.8,1177.6 L1645.5,1176.4 L1647.1,1175.2 L1648.7,1174.0 L1650.4,1172.8 L1652.0,1171.6 L1653.6,1170.4 L1655.2,1169.2 L1656.9,1168.0 L1658.5,1166.8 L1660.1,1165.7 L1661.8,1164.5 L1663.4,1163.4 L1665.1,1162.3 L1666.7,1161.1 L1668.3,1160.0 L1670.0,1158.9 L1671.6,1157.8 L1673.3,1156.7 L1674.9,1155.6 L1676.6,1154.5 L1678.2,1153.4 L1679.9,1152.3 L1681.5,1151.2 L1683.1,1150.1 L1684.8,1149.0 L1686.4,1147.9 L1688.0,1146.8 L1689.6,1145.6 L1691.2,1144.5 L1692.8,1143.3 L1694.4,1142.1 L1696.0,1140.9 L1697.6,1139.7 L1699.2,1138.4 L1700.8,1137.1 L1702.3,1135.8 L1703.9,1134.5 L1705.5,1133.2 L1707.0,1131.9 L1708.6,1130.6 L1710.1,1129.3 L1711.7,1128.0 L1713.3,1126.7 L1714.9,1125.4 L1716.5,1124.2 L1718.1,1122.9 L1719.7,1121.8 L1721.4,1120.6 L1723.0,1119.5 L1724.7,1118.5 L1726.4,1117.5 L1728.2,1116.6 L1730.0,1115.7 L1731.8,1114.9 L1733.6,1114.2 L1735.5,1113.6 L1737.4,1113.0 L1739.4,1112.6 L1741.4,1112.2 L1743.4,1112.0 L1745.5,1111.9 L1747.5,1111.8 L1749.6,1112.0 L1751.6,1112.2 L1753.5,1112.6 L1755.4,1113.2 L1757.3,1113.9 L1759.0,1114.8 L1760.7,1115.8 L1762.3,1117.0 L1763.8,1118.2 L1765.3,1119.5 L1766.8,1120.9 L1768.2,1122.3 L1769.6,1123.8 L1771.1,1125.2 L1772.5,1126.6 L1773.9,1128.0 L1775.3,1129.4 L1776.7,1130.9 L1778.0,1132.3 L1779.4,1133.8 L1780.7,1135.3 L1782.0,1136.8 L1783.3,1138.3 L1784.6,1139.8 L1785.9,1141.3 L1787.2,1142.9 L1788.4,1144.5 L1789.6,1146.1 L1790.8,1147.7 L1792.0,1149.3 L1793.2,1150.9 L1794.3,1152.5 L1795.5,1154.1 L1796.6,1155.7 L1797.7,1157.4 L1798.9,1159.0 L1800.0,1160.7 L1801.1,1162.3 L1802.3,1164.0 L1803.4,1165.6 L1804.6,1167.2 L1805.8,1168.9 L1807.0,1170.5 L1808.1,1172.1 L1809.4,1173.7 L1810.6,1175.3 L1811.8,1176.9 L1813.0,1178.4 L1814.3,1180.0 L1815.5,1181.5 L1816.8,1183.1 L1818.0,1184.6 L1819.3,1186.2 L1820.6,1187.7 L1821.8,1189.2 L1823.1,1190.8 L1824.3,1192.3 L1825.6,1193.9 L1826.8,1195.4 L1828.1,1197.0 L1829.3,1198.6 L1830.5,1200.2 L1831.8,1201.8 L1833.0,1203.4 L1834.2,1205.0 L1835.4,1206.6 L1836.6,1208.2 L1837.8,1209.8 L1839.0,1211.4 L1840.2,1213.0 L1841.4,1214.6 L1842.6,1216.2 L1843.9,1217.8 L1845.1,1219.3 L1846.4,1220.9 L1847.6,1222.4 L1848.9,1223.9 L1850.2,1225.4 L1851.6,1226.9 L1852.9,1228.3 L1854.3,1229.7 L1855.7,1231.1 L1857.1,1232.4 L1858.6,1233.7 L1860.0,1235.0 L1861.6,1236.2 L1863.1,1237.4 L1864.7,1238.6 L1866.3,1239.7 L1868.0,1240.7 L1869.7,1241.7 L1871.4,1242.6 L1873.2,1243.5 L1875.0,1244.3 L1876.9,1245.0 L1878.8,1245.5 L1880.7,1245.9 L1882.7,1246.2 L1884.7,1246.5 L1886.7,1246.6 L1888.8,1246.8 L1890.8,1246.9 L1892.8,1247.1 L1894.8,1247.4 L1896.7,1247.7 L1898.7,1248.2 L1900.6,1248.7 L1902.5,1249.3 L1904.3,1249.9 L1906.2,1250.6 L1908.1,1251.3 L1909.9,1252.0 L1911.8,1252.7 L1913.6,1253.3 L1915.5,1253.9 L1917.4,1254.5 L1919.3,1255.0 L1921.2,1255.4 L1923.2,1255.7 L1925.1,1255.9 L1927.1,1256.1 L1929.1,1256.2 L1931.1,1256.3 L1933.1,1256.4 L1935.1,1256.4 L1937.1,1256.4 L1939.1,1256.4 L1941.1,1256.4 L1943.2,1256.4 L1945.2,1256.4 L1947.2,1256.4 L1949.2,1256.5 L1951.2,1256.6 L1953.2,1256.8 L1955.2,1257.0 L1957.2,1257.3 L1959.2,1257.6 L1961.1,1258.1 L1963.1,1258.5 L1965.0,1259.0 L1967.0,1259.4 L1968.9,1259.6 L1970.9,1259.7 L1973.0,1259.6 L1978.0,1259.9" stroke="#e80000"/>
<path d="M183.5,1109.3 L186.2,1108.1 L188.0,1107.4 L189.9,1106.6 L191.7,1105.7 L193.4,1104.8 L195.2,1103.9 L196.9,1102.9 L198.6,1101.9 L200.2,1100.8 L201.9,1099.7 L203.5,1098.6 L205.0,1097.4 L206.6,1096.2 L208.1,1094.9 L209.6,1093.6 L211.1,1092.3 L212.6,1091.0 L214.0,1089.6 L215.4,1088.2 L216.8,1086.8 L218.2,1085.4 L219.6,1083.9 L220.9,1082.4 L222.3,1080.9 L223.6,1079.4 L224.9,1077.8 L226.1,1076.2 L227.4,1074.7 L228.7,1073.1 L229.9,1071.4 L231.1,1069.8 L232.3,1068.2 L233.5,1066.6 L234.7,1064.9 L235.9,1063.3 L237.1,1061.6 L238.3,1059.9 L239.4,1058.3 L240.6,1056.6 L241.7,1054.9 L242.8,1053.3 L244.0,1051.6 L245.1,1050.0 L246.2,1048.3 L247.3,1046.6 L248.4,1044.9 L249.5,1043.3 L250.6,1041.6 L251.7,1039.9 L252.8,1038.3 L253.8,1036.6 L254.9,1034.9 L256.0,1033.2 L257.0,1031.5 L258.1,1029.8 L259.1,1028.2 L260.1,1026.5 L261.1,1024.8 L262.1,1023.1 L263.2,1021.4 L264.2,1019.6 L265.1,1017.9 L266.1,1016.2 L267.1,1014.5 L268.1,1012.8 L269.0,1011.0 L270.0,1009.3 L270.9,1007.6 L271.9,1005.8 L272.8,1004.1 L273.7,1002.3 L274.7,1000.5 L275.6,998.8 L276.5,997.0 L277.4,995.2 L278.3,993.5 L279.2,991.7 L280.0,989.9 L280.9,988.1 L281.8,986.3 L282.6,984.5 L283.5,982.7 L284.4,980.9 L285.2,979.1 L286.1,977.3 L286.9,975.5 L287.7,973.7 L288.6,971.9 L289.4,970.0 L290.2,968.2 L291.0,966.4 L291.8,964.6 L292.6,962.7 L293.4,960.9 L294.2,959.1 L295.0,957.2 L295.8,955.4 L296.6,953.5 L297.4,951.7 L298.2,949.8 L298.9,948.0 L299.7,946.1 L300.5,944.3 L301.2,942.4 L302.0,940.6 L302.8,938.7 L303.5,936.9 L304.3,935.0 L305.0,933.1 L305.8,931.3 L306.6,929.4 L307.3,927.6 L308.0,925.7 L308.8,923.8 L309.5,922.0 L310.3,920.1 L311.0,918.2 L311.8,916.4 L312.5,914.5 L313.2,912.6 L314.0,910.8 L314.7,908.9 L315.4,907.0 L316.2,905.2 L316.9,903.3 L317.7,901.4 L318.4,899.6 L319.1,897.7 L319.9,895.9 L320.6,894.0 L321.3,892.1 L322.1,890.3 L322.8,888.4 L323.5,886.6 L324.3,884.7 L325.0,882.8 L325.8,881.0 L326.5,879.1 L327.3,877.3 L328.0,875.4 L328.8,873.6 L329.5,871.7 L330.3,869.9 L331.0,868.1 L331.8,866.2 L332.6,864.4 L333.3,862.5 L334.1,860.7 L334.9,858.9 L335.7,857.0 L336.5,855.2 L337.3,853.4 L338.1,851.6 L338.9,849.7 L339.7,847.9 L340.5,846.1 L341.4,844.3 L342.2,842.5 L343.0,840.7 L343.9,838.9 L344.7,837.1 L345.6,835.3 L346.4,833.5 L347.3,831.7 L348.2,829.9 L349.1,828.1 L350.0,826.3 L350.9,824.5 L351.8,822.8 L352.7,821.0 L353.7,819.2 L354.6,817.4 L355.6,815.7 L356.5,813.9 L357.5,812.2 L358.5,810.4 L359.5,808.7 L360.5,806.9 L361.5,805.2 L362.5,803.5 L363.5,801.7 L364.5,800.0 L365.6,798.3 L366.6,796.5 L367.7,794.8 L368.7,793.1 L369.8,791.4 L370.8,789.7 L371.9,787.9 L372.9,786.2 L374.0,784.5 L375.0,782.8 L376.1,781.1 L377.1,779.4 L378.2,777.7 L379.3,776.0 L380.3,774.3 L381.4,772.6 L382.5,770.9 L383.6,769.3 L384.8,767.7 L386.0,766.2 L387.3,764.8 L388.7,763.4 L390.2,762.2 L391.8,761.0 L393.4,759.8 L395.1,758.7 L396.8,757.7 L398.6,756.6 L400.3,755.6 L402.1,754.5 L403.8,753.5 L405.5,752.4 L407.2,751.3 L408.8,750.2 L410.5,749.1 L412.2,748.1 L413.9,747.3 L415.6,746.5 L417.4,746.0 L419.2,745.5 L421.1,745.3 L422.9,745.1 L424.8,745.1 L426.7,745.1 L428.7,745.3 L430.6,745.6 L432.6,746.0 L434.5,746.4 L436.5,747.0 L438.4,747.6 L440.3,748.3 L442.3,749.1 L444.2,749.9 L446.1,750.7 L447.9,751.6 L449.7,752.6 L451.5,753.5 L453.3,754.5 L455.0,755.6 L456.8,756.6 L458.4,757.7 L460.1,758.8 L461.7,759.9 L463.4,761.0 L465.0,762.2 L466.6,763.3 L468.1,764.5 L469.7,765.7 L471.2,766.9 L472.8,768.1 L474.3,769.3 L475.8,770.5 L477.4,771.8 L478.9,773.0 L480.4,774.2 L482.0,775.5 L483.5,776.7 L485.1,777.9 L486.6,779.2 L488.2,780.4 L489.8,781.6 L491.4,782.8 L493.0,784.0 L494.6,785.2 L496.2,786.4 L497.8,787.6 L499.4,788.8 L501.1,789.9 L502.7,791.1 L504.4,792.2 L506.1,793.3 L507.7,794.4 L509.4,795.5 L511.1,796.6 L512.8,797.6 L514.6,798.7 L516.3,799.7 L518.0,800.7 L519.8,801.7 L521.5,802.6 L523.3,803.6 L525.1,804.5 L526.8,805.4 L528.6,806.3 L530.4,807.1 L532.2,807.9 L534.1,808.7 L535.9,809.5 L537.7,810.2 L539.6,810.9 L541.4,811.6 L543.3,812.3 L545.2,813.0 L547.1,813.6 L548.9,814.2 L550.8,814.8 L552.7,815.3 L554.7,815.9 L556.6,816.4 L558.5,816.9 L560.4,817.3 L562.4,817.8 L564.3,818.2 L566.2,818.6 L568.2,819.0 L570.1,819.4 L572.1,819.7 L574.1,820.0 L576.0,820.3 L578.0,820.6 L580.0,820.9 L582.0,821.1 L584.0,821.4 L585.9,821.6 L587.9,821.8 L589.9,822.0 L591.9,822.1 L593.9,822.3 L595.9,822.4 L597.9,822.5 L599.9,822.6 L601.9,822.7 L603.9,822.8 L605.9,822.8 L607.9,822.9 L609.9,822.9 L611.9,822.9 L613.9,822.9 L615.9,822.8 L617.9,822.8 L619.9,822.7 L621.8,822.6 L623.8,822.5 L625.8,822.4 L627.7,822.2 L629.6,822.1 L631.6,821.9 L633.5,821.6 L635.4,821.4 L637.3,821.1 L639.2,820.8 L641.2,820.5 L643.1,820.1 L645.0,819.7 L646.9,819.3 L648.8,818.9 L650.8,818.4 L652.7,817.9 L654.6,817.5 L656.6,817.0 L658.5,816.5 L660.4,815.9 L662.4,815.4 L664.3,814.9 L666.3,814.3 L668.2,813.8 L670.1,813.3 L672.1,812.7 L674.0,812.2 L675.9,811.7 L677.9,811.2 L679.8,810.7 L681.8,810.2 L683.7,809.7 L685.6,809.2 L687.6,808.7 L689.5,808.2 L691.5,807.8 L693.4,807.3 L695.3,806.9 L697.3,806.4 L699.2,806.0 L701.2,805.5 L703.1,805.1 L705.0,804.7 L707.0,804.3 L708.9,803.9 L710.8,803.5 L712.8,803.1 L714.7,802.7 L716.7,802.4 L718.6,802.0 L720.5,801.7 L722.5,801.3 L724.4,801.0 L726.3,800.6 L728.3,800.3 L730.2,800.0 L732.2,799.6 L734.1,799.3 L736.0,799.0 L738.0,798.6 L739.9,798.3 L741.9,797.9 L743.8,797.5 L745.8,797.2 L747.8,796.8 L749.7,796.4 L751.7,796.0 L753.7,795.6 L755.6,795.2 L757.6,794.8 L759.6,794.4 L761.6,794.0 L763.6,793.7 L765.5,793.3 L767.5,793.0 L769.5,792.7 L771.5,792.4 L773.5,792.1 L775.4,791.9 L777.4,791.7 L779.4,791.5 L781.3,791.4 L783.3,791.4 L785.3,791.3 L787.2,791.3 L789.2,791.4 L791.1,791.5 L793.0,791.7 L795.0,792.0 L796.9,792.3 L798.8,792.7 L800.7,793.1 L802.6,793.6 L804.5,794.1 L806.4,794.6 L808.3,795.2 L810.2,795.7 L812.1,796.3 L814.1,796.7 L816.0,797.2 L817.9,797.5 L819.8,797.9 L821.8,798.1 L823.7,798.3 L825.7,798.5 L827.7,798.6 L829.6,798.6 L831.6,798.6 L833.6,798.6 L835.6,798.5 L837.6,798.4 L839.5,798.3 L841.5,798.2 L843.5,798.0 L845.6,797.8 L847.6,797.6 L849.6,797.4 L851.6,797.2 L853.6,797.0 L855.6,796.7 L857.6,796.5 L859.6,796.3 L861.6,796.1 L863.7,795.9 L865.7,795.7 L867.7,795.6 L869.7,795.4 L871.7,795.3 L873.7,795.2 L875.7,795.2 L877.7,795.1 L879.7,795.1 L881.7,795.1 L883.7,795.1 L885.7,795.2 L887.7,795.3 L889.6,795.4 L891.6,795.6 L893.6,795.7 L895.6,796.0 L897.5,796.2 L899.5,796.5 L901.4,796.8 L903.4,797.2 L905.3,797.6 L907.3,798.0 L909.2,798.5 L911.1,799.0 L913.1,799.4 L915.0,799.9 L917.0,800.4 L918.9,800.8 L920.8,801.3 L922.8,801.7 L924.7,802.1 L926.7,802.4 L928.6,802.7 L930.6,803.0 L932.5,803.2 L934.5,803.3 L936.5,803.4 L938.5,803.4 L940.5,803.3 L942.5,803.1 L944.5,802.9 L946.5,802.6 L948.6,802.3 L950.6,802.0 L952.6,801.7 L954.6,801.4 L956.6,801.1 L958.6,800.9 L960.6,800.7 L962.6,800.5 L964.6,800.4 L966.6,800.4 L968.5,800.5 L970.5,800.6 L972.4,800.9 L974.3,801.2 L976.2,801.5 L978.2,801.9 L980.1,802.3 L982.1,802.7 L984.1,803.0 L986.1,803.4 L988.1,803.7 L990.1,803.9 L992.2,804.2 L994.2,804.4 L996.2,804.5 L998.3,804.7 L1000.3,804.7 L1002.4,804.7 L1004.4,804.7 L1006.4,804.6 L1008.4,804.4 L1010.4,804.1 L1012.3,803.8 L1014.2,803.4 L1016.1,802.9 L1018.0,802.4 L1019.8,801.7 L1021.6,801.0 L1023.3,800.3 L1025.1,799.7 L1026.8,799.3 L1028.7,799.1 L1030.5,799.1 L1032.4,799.2 L1034.3,799.3 L1036.3,799.4 L1038.3,799.4 L1040.3,799.4 L1042.3,799.5 L1044.3,799.5 L1046.3,799.6 L1048.3,799.6 L1050.3,799.7 L1052.3,799.8 L1054.3,800.0 L1056.3,800.1 L1058.3,800.2 L1060.2,800.4 L1062.2,800.6 L1064.2,800.8 L1066.2,801.0 L1068.1,801.2 L1070.1,801.4 L1072.1,801.6 L1074.0,801.8 L1076.0,802.0 L1078.0,802.3 L1080.0,802.5 L1081.9,802.8 L1083.9,803.1 L1085.9,803.3 L1087.8,803.6 L1089.8,803.9 L1091.8,804.1 L1093.8,804.4 L1095.8,804.7 L1097.8,805.0 L1099.8,805.2 L1101.7,805.5 L1103.7,805.8 L1105.7,806.1 L1107.8,806.3 L1109.8,806.6 L1111.8,806.9 L1113.8,807.1 L1115.8,807.4 L1117.8,807.7 L1119.8,808.1 L1121.8,808.4 L1123.7,808.8 L1125.6,809.2 L1127.5,809.7 L1129.4,810.2 L1131.2,810.7 L1133.0,811.2 L1134.9,811.5 L1136.7,811.5 L1138.6,811.1 L1140.5,810.3 L1142.4,809.5 L1144.3,808.8 L1146.1,808.4 L1147.9,808.4 L1149.7,808.8 L1151.4,809.4 L1153.1,810.1 L1154.8,811.0 L1156.5,812.0 L1158.3,812.9 L1160.1,813.8 L1161.9,814.6 L1163.8,815.3 L1165.6,815.9 L1167.6,816.5 L1169.5,817.0 L1171.4,817.5 L1173.4,817.9 L1175.4,818.3 L1177.3,818.7 L1179.3,819.2 L1181.3,819.6 L1183.2,820.0 L1185.1,820.5 L1187.0,821.1 L1188.9,821.7 L1190.7,822.3 L1192.5,823.1 L1194.2,823.9 L1195.9,824.9 L1197.6,825.9 L1199.2,827.0 L1200.8,828.1 L1202.5,829.1 L1204.2,829.9 L1206.0,830.4 L1207.9,830.7 L1209.8,830.9 L1211.8,830.9 L1213.8,830.9 L1215.8,831.0 L1217.8,831.1 L1219.8,831.3 L1221.7,831.7 L1223.5,832.4 L1225.3,833.2 L1227.1,834.2 L1228.8,835.2 L1230.5,836.2 L1232.3,837.2 L1234.1,838.1 L1235.9,838.9 L1237.8,839.5 L1239.7,840.1 L1241.7,840.5 L1243.6,840.9 L1245.6,841.3 L1247.6,841.6 L1249.6,842.0 L1251.6,842.3 L1253.6,842.7 L1255.5,843.2 L1257.4,843.8 L1259.3,844.5 L1261.1,845.3 L1262.8,846.3 L1264.5,847.3 L1266.2,848.4 L1267.9,849.6 L1269.5,850.8 L1271.2,851.9 L1272.8,853.0 L1274.5,854.0 L1276.3,854.9 L1278.1,855.6 L1280.0,856.2 L1281.9,856.6 L1283.9,857.0 L1285.9,857.3 L1287.9,857.6 L1289.9,857.8 L1291.9,858.2 L1293.9,858.5 L1295.8,859.0 L1297.7,859.5 L1299.6,860.1 L1301.5,860.8 L1303.3,861.5 L1305.1,862.3 L1306.9,863.2 L1308.7,864.0 L1310.4,865.0 L1312.2,865.9 L1313.9,866.9 L1315.6,868.0 L1317.3,869.0 L1319.0,870.1 L1320.7,871.2 L1322.4,872.3 L1324.1,873.5 L1325.7,874.6 L1327.4,875.8 L1329.1,876.9 L1330.7,878.0 L1332.4,879.2 L1334.1,880.3 L1335.8,881.4 L1337.5,882.5 L1339.1,883.6 L1340.9,884.6 L1342.6,885.6 L1344.3,886.6 L1346.0,887.6 L1347.8,888.6 L1349.5,889.5 L1351.3,890.4 L1353.1,891.3 L1354.9,892.1 L1356.7,893.0 L1358.5,893.7 L1360.3,894.5 L1362.2,895.2 L1364.1,895.9 L1366.0,896.6 L1367.9,897.3 L1369.8,897.9 L1371.7,898.5 L1373.7,899.1 L1375.6,899.6 L1377.6,900.2 L1379.5,900.8 L1381.5,901.4 L1383.4,902.0 L1385.3,902.6 L1387.2,903.2 L1389.1,903.9 L1391.0,904.6 L1392.8,905.3 L1394.7,906.1 L1396.4,906.9 L1398.2,907.8 L1399.9,908.8 L1401.6,909.8 L1403.2,910.9 L1404.8,912.0 L1406.4,913.2 L1408.0,914.3 L1409.7,915.3 L1411.4,916.2 L1413.2,917.1 L1415.1,917.8 L1417.0,918.4 L1419.0,918.9 L1420.9,919.3 L1422.9,919.7 L1424.9,919.9 L1426.9,920.1 L1428.8,920.2 L1430.7,920.2 L1432.7,920.3 L1434.6,920.2 L1436.6,920.2 L1438.5,920.1 L1440.5,920.1 L1442.4,920.0 L1444.4,919.9 L1446.4,919.8 L1448.4,919.8 L1450.4,919.7 L1452.4,919.6 L1454.4,919.5 L1456.4,919.4 L1458.5,919.3 L1460.5,919.1 L1462.5,919.0 L1464.6,918.8 L1466.6,918.7 L1468.6,918.5 L1470.7,918.3 L1472.7,918.0 L1474.7,917.8 L1476.7,917.5 L1478.7,917.3 L1480.8,917.0 L1482.8,916.6 L1484.7,916.3 L1486.7,915.9 L1488.7,915.5 L1490.7,915.0 L1492.6,914.6 L1494.5,914.1 L1496.5,913.6 L1498.4,913.0 L1500.3,912.4 L1502.1,911.8 L1504.0,911.1 L1505.8,910.4 L1507.6,909.7 L1509.4,908.9 L1511.2,908.1 L1513.0,907.2 L1514.7,906.3 L1516.4,905.3 L1518.1,904.4 L1519.8,903.3 L1521.4,902.3 L1523.0,901.2 L1524.7,900.1 L1526.2,898.9 L1527.8,897.8 L1529.4,896.5 L1530.9,895.3 L1532.4,894.0 L1533.9,892.7 L1535.4,891.4 L1536.9,890.1 L1538.3,888.7 L1539.8,887.3 L1541.2,885.9 L1542.6,884.5 L1544.0,883.0 L1545.4,881.6 L1546.8,880.1 L1548.1,878.6 L1549.5,877.1 L1550.8,875.5 L1552.1,874.0 L1553.4,872.5 L1554.7,870.9 L1556.0,869.3 L1557.3,867.8 L1558.5,866.2 L1559.8,864.6 L1561.0,863.0 L1562.3,861.4 L1563.5,859.8 L1564.7,858.2 L1565.9,856.6 L1567.1,855.0 L1568.3,853.4 L1569.5,851.8 L1570.7,850.2 L1571.9,848.5 L1573.0,846.9 L1574.2,845.3 L1575.4,843.7 L1576.5,842.0 L1577.7,840.4 L1578.8,838.8 L1579.9,837.1 L1581.1,835.5 L1582.2,833.8 L1583.3,832.2 L1584.4,830.5 L1585.5,828.9 L1586.6,827.2 L1587.7,825.6 L1588.8,823.9 L1589.9,822.2 L1591.0,820.6 L1592.1,818.9 L1593.2,817.2 L1594.3,815.6 L1595.3,813.9 L1596.4,812.2 L1597.5,810.5 L1598.6,808.8 L1599.7,807.2 L1600.7,805.5 L1601.8,803.8 L1602.9,802.1 L1603.9,800.4 L1605.0,798.7 L1606.1,797.0 L1607.1,795.3 L1608.2,793.6 L1609.3,791.9 L1610.4,790.2 L1611.4,788.5 L1612.5,786.8 L1613.6,785.1 L1614.7,783.4 L1615.7,781.7 L1616.8,780.0 L1617.9,778.3 L1619.0,776.6 L1620.2,774.9 L1621.3,773.3 L1622.4,771.6 L1623.6,770.0 L1624.8,768.4 L1626.0,766.8 L1627.2,765.2 L1628.5,763.7 L1629.8,762.2 L1631.1,760.7 L1632.4,759.2 L1633.8,757.8 L1635.2,756.4 L1636.6,755.1 L1638.1,753.9 L1639.7,752.7 L1641.3,751.6 L1643.0,750.6 L1644.8,749.8 L1646.6,749.1 L1648.5,748.5 L1650.5,748.1 L1652.5,747.8 L1654.5,747.6 L1656.5,747.6 L1658.4,747.7 L1660.4,747.9 L1662.3,748.3 L1664.2,748.8 L1666.1,749.4 L1667.9,750.1 L1669.7,750.9 L1671.5,751.9 L1673.2,752.9 L1674.8,754.0 L1676.4,755.1 L1678.0,756.4 L1679.5,757.7 L1680.9,759.1 L1682.3,760.5 L1683.6,762.0 L1684.9,763.5 L1686.1,765.1 L1687.3,766.7 L1688.5,768.4 L1689.6,770.0 L1690.6,771.7 L1691.7,773.4 L1692.8,775.1 L1693.8,776.9 L1694.8,778.6 L1695.8,780.3 L1696.9,782.0 L1697.9,783.8 L1698.9,785.5 L1699.8,787.3 L1700.8,789.0 L1701.8,790.8 L1702.8,792.5 L1703.7,794.3 L1704.7,796.0 L1705.6,797.8 L1706.5,799.6 L1707.5,801.3 L1708.4,803.1 L1709.3,804.9 L1710.2,806.7 L1711.1,808.4 L1712.0,810.2 L1712.9,812.0 L1713.8,813.8 L1714.7,815.6 L1715.6,817.4 L1716.4,819.2 L1717.3,821.0 L1718.2,822.8 L1719.1,824.6 L1719.9,826.4 L1720.8,828.2 L1721.6,830.0 L1722.5,831.8 L1723.3,833.6 L1724.2,835.4 L1725.0,837.2 L1725.9,839.1 L1726.7,840.9 L1727.5,842.7 L1728.4,844.5 L1729.2,846.3 L1730.0,848.1 L1730.8,850.0 L1731.7,851.8 L1732.5,853.6 L1733.3,855.4 L1734.1,857.3 L1734.9,859.1 L1735.7,860.9 L1736.5,862.7 L1737.3,864.6 L1738.1,866.4 L1738.9,868.3 L1739.7,870.1 L1740.5,871.9 L1741.2,873.8 L1742.0,875.6 L1742.8,877.5 L1743.6,879.3 L1744.3,881.2 L1745.1,883.0 L1745.8,884.9 L1746.6,886.7 L1747.4,888.6 L1748.1,890.4 L1748.8,892.3 L1749.6,894.2 L1750.3,896.0 L1751.1,897.9 L1751.8,899.7 L1752.5,901.6 L1753.3,903.5 L1754.0,905.3 L1754.7,907.2 L1755.5,909.1 L1756.2,910.9 L1756.9,912.8 L1757.7,914.7 L1758.4,916.5 L1759.2,918.4 L1759.9,920.2 L1760.7,922.1 L1761.4,923.9 L1762.2,925.8 L1763.0,927.6 L1763.7,929.5 L1764.5,931.3 L1765.3,933.1 L1766.1,935.0 L1766.9,936.8 L1767.7,938.6 L1768.5,940.4 L1769.3,942.3 L1770.2,944.1 L1771.0,945.9 L1771.9,947.6 L1772.8,949.4 L1773.6,951.2 L1774.5,953.0 L1775.4,954.8 L1776.3,956.5 L1777.3,958.3 L1778.2,960.0 L1779.2,961.7 L1780.2,963.5 L1781.1,965.2 L1782.1,966.9 L1783.1,968.6 L1784.2,970.3 L1785.2,972.0 L1786.2,973.7 L1787.3,975.4 L1788.4,977.1 L1789.4,978.7 L1790.5,980.4 L1791.6,982.1 L1792.7,983.7 L1793.8,985.4 L1794.9,987.1 L1796.1,988.7 L1797.2,990.4 L1798.3,992.0 L1799.5,993.7 L1800.6,995.3 L1801.8,997.0 L1802.9,998.6 L1804.1,1000.3 L1805.3,1001.9 L1806.4,1003.6 L1807.6,1005.2 L1808.8,1006.9 L1809.9,1008.6 L1811.1,1010.2 L1812.3,1011.9 L1813.5,1013.6 L1814.6,1015.2 L1815.8,1016.9 L1817.0,1018.6 L1818.2,1020.2 L1819.4,1021.9 L1820.6,1023.5 L1821.9,1025.1 L1823.1,1026.6 L1824.4,1028.1 L1825.7,1029.6 L1827.1,1031.0 L1828.5,1032.3 L1830.0,1033.6 L1831.5,1034.8 L1833.0,1035.9 L1834.6,1036.9 L1836.3,1037.8 L1838.0,1038.6 L1839.8,1039.4 L1841.6,1040.0 L1843.5,1040.6 L1845.4,1041.1 L1847.4,1041.6 L1849.3,1042.1 L1851.3,1042.6 L1853.3,1043.0 L1855.3,1043.5 L1857.3,1044.1 L1859.2,1044.6 L1861.2,1045.3 L1863.1,1046.0 L1864.9,1046.7 L1866.8,1047.6 L1868.6,1048.5 L1870.4,1049.4 L1872.2,1050.3 L1874.0,1051.1 L1875.8,1051.9 L1877.6,1052.6 L1879.5,1053.1 L1881.4,1053.5 L1883.4,1053.8 L1885.3,1054.0 L1887.3,1054.2 L1889.3,1054.2 L1891.3,1054.3 L1893.3,1054.3 L1895.4,1054.3 L1897.4,1054.3 L1899.4,1054.3 L1901.4,1054.3 L1903.4,1054.4 L1905.4,1054.6 L1907.4,1054.8 L1909.4,1055.1 L1911.3,1055.5 L1913.2,1056.0 L1915.1,1056.6 L1917.0,1057.2 L1918.9,1057.9 L1920.7,1058.6 L1922.6,1059.3 L1924.5,1060.0 L1926.4,1060.7 L1928.2,1061.4 L1930.1,1062.1 L1932.0,1062.7 L1933.9,1063.2 L1935.9,1063.7 L1937.8,1064.1 L1939.8,1064.4 L1941.8,1064.7 L1943.8,1064.9 L1945.8,1065.1 L1947.8,1065.3 L1949.8,1065.5 L1951.8,1065.6 L1953.8,1065.8 L1955.9,1065.9 L1957.9,1066.1 L1959.9,1066.2 L1961.9,1066.5 L1963.9,1066.7 L1965.9,1067.0 L1967.8,1067.4 L1969.8,1067.8 L1971.7,1068.3 L1973.6,1068.8 L1975.5,1069.5 L1978.0,1070.2" stroke="#0000dc"/>
<path d="M183.5,943.9 L188.0,938.3 L189.3,936.8 L190.6,935.2 L191.8,933.6 L193.1,932.1 L194.3,930.5 L195.5,928.9 L196.7,927.2 L197.8,925.6 L199.0,924.0 L200.1,922.3 L201.3,920.7 L202.4,919.0 L203.5,917.4 L204.5,915.7 L205.6,914.0 L206.6,912.3 L207.7,910.6 L208.7,908.9 L209.7,907.1 L210.7,905.4 L211.7,903.7 L212.7,901.9 L213.6,900.1 L214.5,898.4 L215.5,896.6 L216.4,894.8 L217.3,893.1 L218.2,891.3 L219.0,889.5 L219.9,887.7 L220.8,885.8 L221.6,884.0 L222.4,882.2 L223.2,880.4 L224.0,878.6 L224.8,876.7 L225.6,874.9 L226.4,873.0 L227.1,871.2 L227.8,869.3 L228.6,867.5 L229.3,865.6 L230.0,863.7 L230.7,861.8 L231.4,860.0 L232.1,858.1 L232.7,856.2 L233.4,854.3 L234.0,852.4 L234.7,850.5 L235.3,848.6 L235.9,846.7 L236.5,844.8 L237.2,842.9 L237.8,841.0 L238.4,839.1 L238.9,837.2 L239.5,835.3 L240.1,833.4 L240.7,831.5 L241.3,829.6 L241.8,827.7 L242.4,825.7 L243.0,823.8 L243.5,821.9 L244.1,820.0 L244.7,818.1 L245.2,816.2 L245.8,814.2 L246.4,812.3 L246.9,810.4 L247.5,808.5 L248.1,806.6 L248.6,804.7 L249.2,802.7 L249.8,800.8 L250.4,798.9 L251.0,797.0 L251.6,795.1 L252.2,793.2 L252.8,791.3 L253.4,789.4 L254.0,787.4 L254.5,785.5 L255.1,783.6 L255.7,781.7 L256.3,779.8 L256.9,777.9 L257.5,776.0 L258.1,774.1 L258.7,772.2 L259.3,770.3 L259.9,768.3 L260.4,766.4 L261.0,764.5 L261.5,762.6 L262.1,760.7 L262.6,758.7 L263.2,756.8 L263.7,754.9 L264.3,753.0 L264.8,751.0 L265.3,749.1 L265.8,747.2 L266.3,745.2 L266.8,743.3 L267.3,741.4 L267.8,739.4 L268.3,737.5 L268.8,735.6 L269.3,733.6 L269.8,731.7 L270.2,729.7 L270.7,727.8 L271.2,725.9 L271.6,723.9 L272.1,722.0 L272.6,720.0 L273.0,718.1 L273.5,716.1 L273.9,714.2 L274.4,712.2 L274.8,710.3 L275.2,708.3 L275.7,706.4 L276.1,704.4 L276.5,702.5 L277.0,700.5 L277.4,698.6 L277.8,696.6 L278.2,694.7 L278.6,692.7 L279.1,690.8 L279.5,688.8 L279.9,686.9 L280.3,684.9 L280.7,682.9 L281.1,681.0 L281.5,679.0 L281.9,677.1 L282.3,675.1 L282.7,673.1 L283.2,671.2 L283.6,669.2 L284.0,667.3 L284.4,665.3 L284.8,663.4 L285.2,661.4 L285.6,659.4 L286.0,657.5 L286.4,655.5 L286.8,653.6 L287.2,651.6 L287.6,649.6 L288.0,647.7 L288.4,645.7 L288.8,643.8 L289.2,641.8 L289.6,639.8 L290.0,637.9 L290.4,635.9 L290.8,634.0 L291.2,632.0 L291.6,630.1 L292.0,628.1 L292.4,626.1 L292.8,624.2 L293.3,622.2 L293.7,620.3 L294.1,618.3 L294.5,616.4 L294.9,614.4 L295.3,612.4 L295.8,610.5 L296.2,608.5 L296.6,606.6 L297.0,604.6 L297.4,602.7 L297.9,600.7 L298.3,598.8 L298.7,596.8 L299.2,594.9 L299.6,592.9 L300.0,591.0 L300.4,589.0 L300.9,587.1 L301.3,585.1 L301.7,583.1 L302.2,581.2 L302.6,579.2 L303.0,577.3 L303.5,575.3 L303.9,573.4 L304.3,571.4 L304.8,569.5 L305.2,567.5 L305.6,565.6 L306.1,563.6 L306.5,561.7 L306.9,559.7 L307.4,557.8 L307.8,555.8 L308.2,553.9 L308.7,551.9 L309.1,550.0 L309.6,548.0 L310.0,546.1 L310.4,544.1 L310.9,542.2 L311.3,540.2 L311.7,538.3 L312.2,536.3 L312.6,534.4 L313.0,532.4 L313.5,530.5 L313.9,528.5 L314.3,526.6 L314.8,524.6 L315.2,522.7 L315.6,520.7 L316.1,518.8 L316.5,516.8 L316.9,514.9 L317.4,512.9 L317.8,510.9 L318.2,509.0 L318.6,507.0 L319.1,505.1 L319.5,503.1 L319.9,501.2 L320.4,499.2 L320.8,497.3 L321.2,495.3 L321.6,493.4 L322.0,491.4 L322.5,489.5 L322.9,487.5 L323.3,485.5 L323.7,483.6 L324.1,481.6 L324.6,479.7 L325.0,477.7 L325.4,475.8 L325.8,473.8 L326.2,471.9 L326.6,469.9 L327.0,467.9 L327.5,466.0 L327.9,464.0 L328.3,462.1 L328.7,460.1 L329.1,458.2 L329.5,456.2 L329.9,454.2 L330.3,452.3 L330.7,450.3 L331.1,448.4 L331.5,446.4 L332.0,444.5 L332.4,442.5 L332.8,440.5 L333.2,438.6 L333.6,436.6 L334.0,434.7 L334.4,432.7 L334.8,430.7 L335.2,428.8 L335.6,426.8 L336.0,424.9 L336.4,422.9 L336.8,421.0 L337.2,419.0 L337.6,417.0 L338.0,415.1 L338.4,413.1 L338.8,411.2 L339.2,409.2 L339.7,407.3 L340.1,405.3 L340.5,403.3 L340.9,401.4 L341.3,399.4 L341.7,397.5 L342.1,395.5 L342.5,393.6 L342.9,391.6 L343.3,389.6 L343.7,387.7 L344.1,385.7 L344.5,383.8 L344.9,381.8 L345.3,379.9 L345.8,377.9 L346.2,376.0 L346.6,374.0 L347.0,372.0 L347.4,370.1 L347.8,368.1 L348.2,366.2 L348.6,364.2 L349.1,362.3 L349.5,360.3 L349.9,358.4 L350.3,356.4 L350.7,354.5 L351.1,352.5 L351.6,350.6 L352.0,348.6 L352.4,346.7 L352.8,344.7 L353.2,342.8 L353.7,340.8 L354.1,338.9 L354.5,336.9 L354.9,335.0 L355.4,333.0 L355.8,331.1 L356.2,329.1 L356.7,327.2 L357.1,325.2 L357.5,323.3 L358.0,321.3 L358.4,319.4 L358.9,317.4 L359.3,315.5 L359.8,313.6 L360.2,311.6 L360.6,309.7 L361.1,307.7 L361.6,305.8 L362.0,303.8 L362.5,301.9 L362.9,300.0 L363.4,298.0 L363.9,296.1 L364.3,294.1 L364.8,292.2 L365.3,290.3 L365.7,288.3 L366.2,286.4 L366.7,284.4 L367.2,282.5 L367.7,280.6 L368.2,278.6 L368.7,276.7 L369.2,274.7 L369.7,272.8 L370.2,270.9 L370.7,268.9 L371.2,267.0 L371.7,265.1 L372.2,263.1 L372.7,261.2 L373.2,259.3 L373.7,257.3 L374.2,255.4 L374.8,253.5 L375.3,251.5 L375.8,249.6 L376.3,247.7 L376.8,245.7 L377.3,243.8 L377.9,241.9 L378.4,239.9 L378.9,238.0 L379.4,236.1 L379.9,234.1 L380.4,232.2 L380.9,230.2 L381.4,228.3 L381.9,226.4 L382.4,224.4 L382.9,222.5 L383.4,220.6 L383.9,218.6 L384.4,216.7 L384.9,214.8 L385.4,212.8 L385.9,210.9 L386.4,209.0 L386.9,207.0 L387.4,205.1 L387.9,203.2 L388.4,201.2 L388.9,199.3 L389.4,197.4 L389.9,195.5 L390.4,193.5 L391.0,191.6 L391.5,189.7 L392.0,187.8 L392.6,185.9 L393.1,183.9 L393.7,182.0 L394.3,180.1 L394.8,178.2 L395.4,176.3 L396.0,174.4 L396.6,172.5 L397.3,170.7 L397.9,168.8 L398.5,166.9 L399.2,165.0 L399.9,163.1 L400.5,161.3 L401.2,159.4 L402.0,157.5 L402.7,155.7 L403.4,153.8 L404.2,152.0 L405.0,150.1 L405.7,148.3 L406.6,146.5 L407.4,144.6 L408.2,142.8 L409.1,141.0 L410.0,139.2 L410.9,137.4 L411.8,135.6 L412.7,133.8 L413.7,132.0 L414.7,130.2 L415.7,128.5 L416.7,126.7 L417.7,125.0 L418.7,123.3 L419.8,121.6 L420.9,119.9 L422.0,118.2 L423.1,116.5 L424.2,114.9 L425.3,113.2 L426.4,111.6 L427.6,110.0 L428.7,108.4 L429.9,106.9 L431.2,105.4 L432.4,103.9 L433.8,102.6 L435.2,101.3 L436.7,100.1 L438.3,99.0 L440.0,98.1 L441.8,97.2 L443.7,96.5 L445.6,95.9 L447.6,95.5 L449.7,95.2 L451.7,94.9 L453.8,94.9 L455.9,94.9 L457.9,95.1 L460.0,95.4 L462.0,95.8 L463.9,96.3 L465.8,97.0 L467.5,97.8 L469.2,98.8 L470.8,99.8 L472.4,100.9 L473.9,102.1 L475.3,103.4 L476.7,104.8 L478.1,106.3 L479.4,107.7 L480.6,109.3 L481.9,110.8 L483.1,112.4 L484.3,114.0 L485.6,115.6 L486.8,117.2 L488.0,118.8 L489.1,120.5 L490.3,122.1 L491.5,123.7 L492.7,125.3 L493.9,127.0 L495.1,128.6 L496.2,130.2 L497.4,131.8 L498.6,133.5 L499.8,135.1 L501.0,136.7 L502.2,138.3 L503.4,139.9 L504.6,141.5 L505.9,143.0 L507.1,144.6 L508.3,146.2 L509.6,147.7 L510.8,149.3 L512.0,150.9 L513.3,152.4 L514.5,154.0 L515.7,155.6 L516.8,157.2 L518.0,158.8 L519.1,160.4 L520.2,162.1 L521.2,163.8 L522.3,165.5 L523.3,167.2 L524.2,168.9 L525.2,170.6 L526.1,172.4 L527.0,174.1 L527.9,175.9 L528.8,177.7 L529.6,179.5 L530.4,181.3 L531.3,183.2 L532.1,185.0 L532.9,186.8 L533.7,188.6 L534.5,190.5 L535.3,192.3 L536.1,194.2 L536.9,196.0 L537.6,197.9 L538.4,199.7 L539.2,201.5 L540.1,203.4 L540.9,205.2 L541.7,207.0 L542.6,208.8 L543.4,210.6 L544.3,212.4 L545.2,214.2 L546.1,216.0 L547.1,217.7 L548.0,219.5 L549.0,221.2 L550.1,222.9 L551.1,224.6 L552.2,226.3 L553.3,227.9 L554.4,229.6 L555.6,231.2 L556.8,232.8 L558.0,234.4 L559.2,236.0 L560.5,237.6 L561.7,239.1 L563.0,240.7 L564.3,242.2 L565.6,243.8 L567.0,245.3 L568.3,246.8 L569.7,248.3 L571.0,249.8 L572.4,251.3 L573.7,252.8 L575.1,254.3 L576.5,255.8 L577.9,257.3 L579.2,258.8 L580.6,260.3 L582.0,261.8 L583.4,263.3 L584.7,264.8 L586.1,266.3 L587.4,267.8 L588.8,269.3 L590.1,270.8 L591.4,272.4 L592.7,273.9 L594.0,275.4 L595.2,277.0 L596.5,278.5 L597.7,280.1 L598.9,281.6 L600.2,283.2 L601.4,284.7 L602.7,286.1 L604.0,287.6 L605.4,288.9 L606.8,290.2 L608.2,291.3 L609.8,292.4 L611.4,293.4 L613.1,294.3 L614.9,295.0 L616.7,295.7 L618.6,296.3 L620.5,296.8 L622.5,297.2 L624.5,297.6 L626.5,297.9 L628.6,298.2 L630.6,298.4 L632.7,298.5 L634.8,298.6 L636.9,298.7 L638.9,298.7 L641.0,298.6 L643.0,298.5 L645.0,298.3 L647.0,298.1 L649.0,297.8 L650.9,297.5 L652.9,297.2 L654.8,296.8 L656.7,296.3 L658.6,295.9 L660.5,295.4 L662.4,294.9 L664.3,294.3 L666.2,293.7 L668.1,293.1 L670.0,292.5 L671.8,291.9 L673.7,291.2 L675.6,290.6 L677.5,289.9 L679.3,289.2 L681.2,288.4 L683.0,287.7 L684.9,286.9 L686.7,286.2 L688.5,285.4 L690.4,284.6 L692.2,283.8 L694.0,282.9 L695.8,282.1 L697.6,281.2 L699.4,280.3 L701.2,279.4 L703.0,278.5 L704.8,277.6 L706.6,276.6 L708.3,275.7 L710.1,274.7 L711.8,273.7 L713.6,272.7 L715.3,271.7 L717.0,270.7 L718.7,269.6 L720.4,268.6 L722.1,267.5 L723.8,266.4 L725.5,265.3 L727.2,264.2 L728.9,263.2 L730.5,262.1 L732.2,261.0 L733.9,259.9 L735.5,258.8 L737.2,257.7 L738.9,256.7 L740.6,255.7 L742.3,254.6 L744.0,253.6 L745.7,252.7 L747.5,251.7 L749.2,250.8 L751.0,249.9 L752.7,249.1 L754.5,248.3 L756.4,247.5 L758.2,246.8 L760.1,246.1 L761.9,245.4 L763.8,244.8 L765.7,244.2 L767.7,243.7 L769.6,243.1 L771.5,242.6 L773.5,242.0 L775.4,241.5 L777.4,241.0 L779.3,240.5 L781.3,239.9 L783.2,239.4 L785.1,238.9 L787.1,238.3 L789.0,237.7 L790.9,237.2 L792.9,236.6 L794.8,236.1 L796.7,235.5 L798.7,234.9 L800.6,234.4 L802.5,233.8 L804.5,233.2 L806.4,232.7 L808.3,232.1 L810.2,231.6 L812.2,231.1 L814.1,230.5 L816.0,230.0 L818.0,229.5 L819.9,229.0 L821.8,228.5 L823.8,228.0 L825.7,227.5 L827.6,227.1 L829.6,226.6 L831.5,226.2 L833.5,225.8 L835.4,225.4 L837.4,225.0 L839.3,224.7 L841.3,224.3 L843.3,224.0 L845.2,223.7 L847.2,223.4 L849.2,223.2 L851.1,222.9 L853.1,222.7 L855.1,222.5 L857.1,222.3 L859.1,222.1 L861.0,221.9 L863.0,221.7 L865.0,221.6 L867.0,221.4 L869.0,221.3 L871.0,221.2 L872.9,221.1 L874.9,221.0 L876.9,220.9 L878.9,220.8 L880.9,220.7 L882.9,220.6 L884.9,220.6 L886.9,220.5 L888.9,220.5 L890.9,220.5 L892.8,220.4 L894.8,220.4 L896.8,220.4 L898.8,220.5 L900.8,220.5 L902.8,220.5 L904.8,220.6 L906.8,220.6 L908.8,220.7 L910.8,220.8 L912.8,220.9 L914.8,221.0 L916.7,221.1 L918.7,221.3 L920.7,221.4 L922.7,221.6 L924.7,221.8 L926.7,222.0 L928.7,222.2 L930.7,222.4 L932.7,222.6 L934.7,222.8 L936.7,223.1 L938.6,223.4 L940.6,223.6 L942.6,223.9 L944.6,224.3 L946.6,224.6 L948.6,224.9 L950.6,225.3 L952.5,225.7 L954.5,226.0 L956.5,226.4 L958.5,226.9 L960.5,227.3 L962.5,227.7 L964.4,228.1 L966.4,228.6 L968.4,229.0 L970.4,229.4 L972.3,229.8 L974.3,230.1 L976.2,230.5 L978.2,230.8 L980.1,231.0 L982.1,231.2 L984.0,231.4 L986.0,231.5 L987.9,231.6 L989.8,231.6 L991.7,231.5 L993.6,231.4 L995.5,231.2 L997.4,230.9 L999.3,230.6 L1001.2,230.2 L1003.1,229.7 L1005.0,229.2 L1006.9,228.7 L1008.8,228.2 L1010.7,227.7 L1012.6,227.3 L1014.5,226.9 L1016.5,226.5 L1018.4,226.2 L1020.4,225.9 L1022.3,225.6 L1024.3,225.5 L1026.2,225.4 L1028.2,225.3 L1030.2,225.3 L1032.1,225.3 L1034.1,225.4 L1036.1,225.5 L1038.0,225.7 L1040.0,225.9 L1042.0,226.1 L1044.0,226.4 L1046.0,226.7 L1047.9,227.0 L1049.9,227.3 L1051.9,227.7 L1053.9,228.0 L1055.9,228.4 L1057.9,228.8 L1059.9,229.2 L1061.9,229.6 L1063.8,230.0 L1065.8,230.4 L1067.8,230.8 L1069.8,231.2 L1071.8,231.6 L1073.8,231.9 L1075.8,232.3 L1077.8,232.6 L1079.7,232.9 L1081.7,233.2 L1083.7,233.5 L1085.7,233.8 L1087.7,234.0 L1089.6,234.3 L1091.6,234.6 L1093.6,234.9 L1095.5,235.2 L1097.5,235.5 L1099.4,235.8 L1101.4,236.1 L1103.3,236.5 L1105.2,236.8 L1107.2,237.2 L1109.1,237.6 L1111.0,238.1 L1112.9,238.6 L1114.8,239.1 L1116.7,239.6 L1118.6,240.2 L1120.5,240.8 L1122.4,241.5 L1124.2,242.1 L1126.1,242.8 L1128.0,243.5 L1129.8,244.1 L1131.7,244.8 L1133.6,245.4 L1135.5,246.0 L1137.4,246.5 L1139.3,247.1 L1141.2,247.5 L1143.2,247.9 L1145.1,248.3 L1147.1,248.6 L1149.0,248.9 L1151.0,249.2 L1152.9,249.4 L1154.9,249.7 L1156.8,250.0 L1158.8,250.4 L1160.7,250.8 L1162.6,251.2 L1164.5,251.7 L1166.4,252.2 L1168.3,252.8 L1170.2,253.4 L1172.1,254.0 L1174.0,254.6 L1175.9,255.2 L1177.8,255.8 L1179.7,256.4 L1181.6,256.9 L1183.6,257.4 L1185.5,257.8 L1187.5,258.3 L1189.4,258.8 L1191.4,259.2 L1193.3,259.6 L1195.3,260.0 L1197.3,260.5 L1199.2,260.9 L1201.2,261.3 L1203.1,261.8 L1205.1,262.2 L1207.0,262.7 L1208.9,263.2 L1210.8,263.7 L1212.7,264.2 L1214.6,264.8 L1216.5,265.4 L1218.4,266.1 L1220.2,266.7 L1222.1,267.4 L1223.9,268.2 L1225.7,268.9 L1227.5,269.6 L1229.4,270.4 L1231.2,271.2 L1233.0,272.0 L1234.8,272.8 L1236.6,273.6 L1238.4,274.3 L1240.2,275.1 L1242.1,275.9 L1243.9,276.7 L1245.7,277.4 L1247.6,278.2 L1249.4,278.9 L1251.3,279.7 L1253.1,280.4 L1255.0,281.1 L1256.9,281.9 L1258.7,282.6 L1260.6,283.4 L1262.4,284.1 L1264.3,284.9 L1266.1,285.7 L1267.9,286.5 L1269.7,287.3 L1271.5,288.2 L1273.3,289.0 L1275.1,289.9 L1276.9,290.8 L1278.7,291.7 L1280.5,292.6 L1282.2,293.5 L1284.0,294.5 L1285.8,295.4 L1287.5,296.4 L1289.3,297.4 L1291.0,298.4 L1292.7,299.4 L1294.5,300.4 L1296.2,301.4 L1297.9,302.4 L1299.6,303.4 L1301.3,304.5 L1303.0,305.5 L1304.7,306.5 L1306.4,307.6 L1308.1,308.6 L1309.8,309.7 L1311.5,310.8 L1313.2,311.8 L1314.9,312.9 L1316.6,313.9 L1318.3,315.0 L1320.0,316.1 L1321.7,317.1 L1323.4,318.2 L1325.1,319.3 L1326.7,320.3 L1328.4,321.4 L1330.1,322.5 L1331.8,323.5 L1333.4,324.6 L1335.1,325.7 L1336.7,326.9 L1338.3,328.0 L1339.8,329.2 L1341.4,330.4 L1342.9,331.7 L1344.4,333.0 L1345.9,334.3 L1347.3,335.7 L1348.7,337.1 L1350.0,338.6 L1351.4,340.1 L1352.7,341.6 L1354.0,343.1 L1355.2,344.7 L1356.5,346.2 L1357.8,347.8 L1359.1,349.3 L1360.4,350.9 L1361.7,352.4 L1363.0,353.9 L1364.4,355.4 L1365.7,356.9 L1367.1,358.4 L1368.5,359.9 L1369.8,361.3 L1371.2,362.7 L1372.6,364.2 L1374.0,365.6 L1375.5,367.0 L1376.9,368.4 L1378.3,369.8 L1379.7,371.2 L1381.1,372.6 L1382.6,374.0 L1384.0,375.4 L1385.4,376.8 L1386.8,378.3 L1388.2,379.7 L1389.6,381.1 L1391.0,382.5 L1392.4,383.9 L1393.8,385.4 L1395.2,386.8 L1396.6,388.3 L1397.9,389.7 L1399.3,391.2 L1400.7,392.6 L1402.0,394.1 L1403.4,395.6 L1404.7,397.0 L1406.1,398.5 L1407.4,400.0 L1408.7,401.5 L1410.1,402.9 L1411.4,404.4 L1412.8,405.9 L1414.1,407.3 L1415.5,408.8 L1416.8,410.3 L1418.1,411.8 L1419.5,413.2 L1420.9,414.7 L1422.2,416.1 L1423.6,417.6 L1424.9,419.0 L1426.3,420.5 L1427.7,421.9 L1429.1,423.4 L1430.4,424.8 L1431.8,426.2 L1433.2,427.6 L1434.6,429.0 L1436.1,430.4 L1437.5,431.8 L1438.9,433.2 L1440.3,434.6 L1441.8,436.0 L1443.2,437.3 L1444.7,438.7 L1446.2,440.0 L1447.7,441.4 L1449.1,442.7 L1450.6,444.0 L1452.1,445.3 L1453.6,446.6 L1455.1,447.9 L1456.7,449.2 L1458.2,450.5 L1459.7,451.8 L1461.3,453.1 L1462.8,454.4 L1464.4,455.6 L1465.9,456.9 L1467.5,458.2 L1469.0,459.4 L1470.6,460.7 L1472.2,461.9 L1473.8,463.1 L1475.4,464.4 L1476.9,465.6 L1478.5,466.8 L1480.1,468.0 L1481.8,469.2 L1483.4,470.4 L1485.0,471.6 L1486.6,472.8 L1488.3,473.9 L1489.9,475.1 L1491.6,476.2 L1493.2,477.2 L1494.9,478.3 L1496.6,479.3 L1498.3,480.3 L1500.0,481.2 L1501.7,482.1 L1503.5,482.9 L1505.2,483.7 L1507.0,484.5 L1508.8,485.2 L1510.6,485.8 L1512.4,486.4 L1514.3,486.9 L1516.2,487.3 L1518.0,487.7 L1519.9,488.0 L1521.9,488.3 L1523.8,488.4 L1525.8,488.5 L1527.8,488.5 L1529.8,488.4 L1531.8,488.2 L1533.9,488.0 L1535.9,487.7 L1538.0,487.3 L1540.0,486.9 L1542.1,486.4 L1544.1,485.8 L1546.1,485.2 L1548.1,484.5 L1550.1,483.7 L1552.1,482.9 L1554.0,482.1 L1556.0,481.2 L1557.8,480.3 L1559.7,479.3 L1561.5,478.3 L1563.2,477.2 L1564.9,476.2 L1566.6,475.0 L1568.2,473.9 L1569.8,472.7 L1571.4,471.5 L1572.9,470.2 L1574.4,469.0 L1575.9,467.7 L1577.3,466.3 L1578.8,465.0 L1580.2,463.6 L1581.5,462.2 L1582.9,460.8 L1584.2,459.4 L1585.5,457.9 L1586.8,456.5 L1588.1,455.0 L1589.4,453.5 L1590.6,451.9 L1591.9,450.4 L1593.1,448.9 L1594.3,447.3 L1595.5,445.8 L1596.8,444.2 L1598.0,442.6 L1599.2,441.1 L1600.4,439.5 L1601.6,437.9 L1602.8,436.3 L1604.0,434.7 L1605.3,433.1 L1606.5,431.5 L1607.7,430.0 L1609.0,428.4 L1610.2,426.8 L1611.5,425.2 L1612.8,423.7 L1614.0,422.1 L1615.3,420.5 L1616.5,418.9 L1617.8,417.4 L1619.1,415.8 L1620.3,414.2 L1621.5,412.6 L1622.8,411.1 L1624.0,409.5 L1625.2,407.9 L1626.4,406.3 L1627.6,404.7 L1628.8,403.1 L1629.9,401.5 L1631.1,399.9 L1632.2,398.3 L1633.3,396.7 L1634.4,395.1 L1635.6,393.4 L1636.7,391.8 L1637.8,390.2 L1639.0,388.6 L1640.1,387.1 L1641.3,385.5 L1642.5,383.9 L1643.8,382.4 L1645.1,380.9 L1646.5,379.4 L1647.9,377.9 L1649.4,376.5 L1650.9,375.0 L1652.5,373.7 L1654.2,372.3 L1655.9,371.0 L1657.6,369.9 L1659.4,368.8 L1661.3,367.8 L1663.1,366.9 L1665.0,366.3 L1666.9,365.7 L1668.7,365.4 L1670.6,365.2 L1672.5,365.2 L1674.3,365.4 L1676.2,365.8 L1678.0,366.3 L1679.8,367.0 L1681.6,367.7 L1683.3,368.6 L1685.1,369.6 L1686.7,370.7 L1688.4,371.9 L1690.0,373.1 L1691.6,374.4 L1693.1,375.7 L1694.5,377.1 L1696.0,378.5 L1697.3,379.9 L1698.7,381.4 L1699.9,382.9 L1701.2,384.4 L1702.4,386.0 L1703.5,387.6 L1704.7,389.2 L1705.8,390.8 L1706.8,392.5 L1707.9,394.2 L1708.9,395.9 L1709.8,397.6 L1710.8,399.3 L1711.7,401.1 L1712.6,402.9 L1713.4,404.7 L1714.3,406.5 L1715.1,408.3 L1715.9,410.2 L1716.7,412.0 L1717.4,413.9 L1718.2,415.7 L1718.9,417.6 L1719.7,419.5 L1720.4,421.4 L1721.1,423.3 L1721.8,425.2 L1722.5,427.1 L1723.2,429.0 L1723.9,430.9 L1724.6,432.8 L1725.3,434.7 L1726.0,436.6 L1726.7,438.5 L1727.3,440.4 L1728.0,442.3 L1728.7,444.2 L1729.4,446.0 L1730.1,447.9 L1730.8,449.8 L1731.5,451.7 L1732.2,453.6 L1732.8,455.5 L1733.5,457.3 L1734.2,459.2 L1734.9,461.1 L1735.6,463.0 L1736.2,464.9 L1736.9,466.7 L1737.6,468.6 L1738.3,470.5 L1739.0,472.4 L1739.6,474.2 L1740.3,476.1 L1741.0,478.0 L1741.7,479.9 L1742.4,481.7 L1743.0,483.6 L1743.7,485.5 L1744.4,487.3 L1745.1,489.2 L1745.7,491.1 L1746.4,493.0 L1747.1,494.8 L1747.8,496.7 L1748.4,498.6 L1749.1,500.5 L1749.8,502.3 L1750.4,504.2 L1751.1,506.1 L1751.8,508.0 L1752.5,509.8 L1753.1,511.7 L1753.8,513.6 L1754.5,515.5 L1755.1,517.3 L1755.8,519.2 L1756.5,521.1 L1757.2,523.0 L1757.8,524.9 L1758.5,526.7 L1759.2,528.6 L1759.8,530.5 L1760.5,532.4 L1761.2,534.3 L1761.9,536.1 L1762.5,538.0 L1763.2,539.9 L1763.9,541.8 L1764.6,543.7 L1765.2,545.6 L1765.9,547.4 L1766.6,549.3 L1767.2,551.2 L1767.9,553.1 L1768.6,555.0 L1769.3,556.9 L1769.9,558.8 L1770.6,560.6 L1771.3,562.5 L1772.0,564.4 L1772.7,566.3 L1773.4,568.2 L1774.0,570.0 L1774.7,571.9 L1775.4,573.8 L1776.1,575.7 L1776.8,577.6 L1777.5,579.4 L1778.2,581.3 L1779.0,583.2 L1779.7,585.0 L1780.4,586.9 L1781.1,588.8 L1781.9,590.6 L1782.6,592.5 L1783.3,594.3 L1784.1,596.2 L1784.9,598.0 L1785.6,599.9 L1786.4,601.7 L1787.2,603.6 L1787.9,605.4 L1788.7,607.2 L1789.5,609.1 L1790.3,610.9 L1791.1,612.7 L1792.0,614.5 L1792.8,616.3 L1793.6,618.2 L1794.5,620.0 L1795.3,621.8 L1796.2,623.6 L1797.1,625.3 L1798.0,627.1 L1798.9,628.9 L1799.8,630.7 L1800.7,632.4 L1801.6,634.2 L1802.6,636.0 L1803.5,637.7 L1804.5,639.5 L1805.5,641.2 L1806.4,642.9 L1807.4,644.7 L1808.4,646.4 L1809.5,648.1 L1810.5,649.8 L1811.6,651.5 L1812.6,653.2 L1813.7,654.9 L1814.8,656.6 L1815.9,658.2 L1817.0,659.9 L1818.1,661.6 L1819.3,663.2 L1820.5,664.8 L1821.7,666.5 L1822.9,668.1 L1824.1,669.7 L1825.3,671.2 L1826.6,672.8 L1827.8,674.3 L1829.1,675.9 L1830.5,677.4 L1831.8,678.9 L1833.2,680.3 L1834.5,681.7 L1836.0,683.2 L1837.4,684.5 L1838.8,685.9 L1840.3,687.2 L1841.8,688.5 L1843.4,689.8 L1844.9,691.0 L1846.5,692.2 L1848.1,693.4 L1849.7,694.6 L1851.4,695.7 L1853.0,696.9 L1854.7,698.0 L1856.4,699.0 L1858.1,700.1 L1859.8,701.2 L1861.5,702.2 L1863.2,703.3 L1864.9,704.3 L1866.6,705.3 L1868.3,706.4 L1870.1,707.4 L1871.8,708.4 L1873.5,709.4 L1875.2,710.4 L1877.0,711.5 L1878.7,712.5 L1880.4,713.5 L1882.1,714.5 L1883.8,715.5 L1885.6,716.5 L1887.3,717.5 L1889.0,718.5 L1890.7,719.5 L1892.4,720.5 L1894.2,721.4 L1895.9,722.4 L1897.6,723.4 L1899.4,724.3 L1901.1,725.3 L1902.9,726.2 L1904.6,727.2 L1906.4,728.1 L1908.1,729.0 L1909.9,729.9 L1911.6,730.8 L1913.4,731.7 L1915.2,732.6 L1916.9,733.5 L1918.7,734.4 L1920.4,735.3 L1922.2,736.2 L1924.0,737.0 L1925.8,737.8 L1927.6,738.6 L1929.4,739.3 L1931.2,740.1 L1933.1,740.8 L1934.9,741.5 L1936.8,742.1 L1938.6,742.8 L1940.5,743.4 L1942.4,744.0 L1944.3,744.6 L1946.2,745.1 L1948.1,745.7 L1950.0,746.2 L1951.9,746.8 L1953.9,747.3 L1955.8,747.8 L1957.7,748.3 L1959.7,748.8 L1961.6,749.4 L1963.5,749.9 L1965.5,750.4 L1967.4,750.9 L1969.4,751.4 L1971.3,751.9 L1973.2,752.4 L1975.2,753.0 L1977.1,753.5 L1978.0,753.7" stroke="#f200e6"/>
<path d="M1971,1258.5 L1974.5,1276" stroke="#e80000"/>
<path d="M1960,1470.8 L1964.5,1470.5 L1966.5,1463.5 L1973.5,1463 L1975.5,1472" stroke="#000"/>
<path d="M1797.5,1462 L1797.5,1470" stroke="#000" stroke-width="3"/>
</g>
<g font-size="45" text-anchor="middle">
<text x="183.5" y="1572.5">100</text>
<text x="542.1" y="1572.5">200</text>
<text x="900.7" y="1572.5">300</text>
<text x="1259.3" y="1572.5">400</text>
<text x="1617.9" y="1572.5">500</text>
<text x="1976.5" y="1572.5">600</text>
</g>
<g font-size="46">
<line x1="1453" y1="69.8" x2="1561" y2="69.8" stroke="#000000" stroke-width="4.2"/>
<text x="1572.5" y="85.4">SAPO-34</text>
<line x1="1453" y1="126.9" x2="1561" y2="126.9" stroke="#e80000" stroke-width="4.2"/>
<text x="1572.5" y="142.5">3Fe/SAPO-34</text>
<line x1="1453" y1="184.2" x2="1561" y2="184.2" stroke="#0000dc" stroke-width="4.2"/>
<text x="1572.5" y="199.8">3Cu/SAPO-34</text>
<line x1="1453" y1="241.5" x2="1561" y2="241.5" stroke="#f200e6" stroke-width="4.2"/>
<text x="1572.5" y="257.1">3Cu-1Fe/SAPO-34</text>
</g>
<text x="795" y="1700" font-size="74.5">Temperature (°C)</text>
<text transform="translate(78.7,1062) rotate(-90)" font-size="73.5">TCD Concentration</text>
</svg>
</body></html>
